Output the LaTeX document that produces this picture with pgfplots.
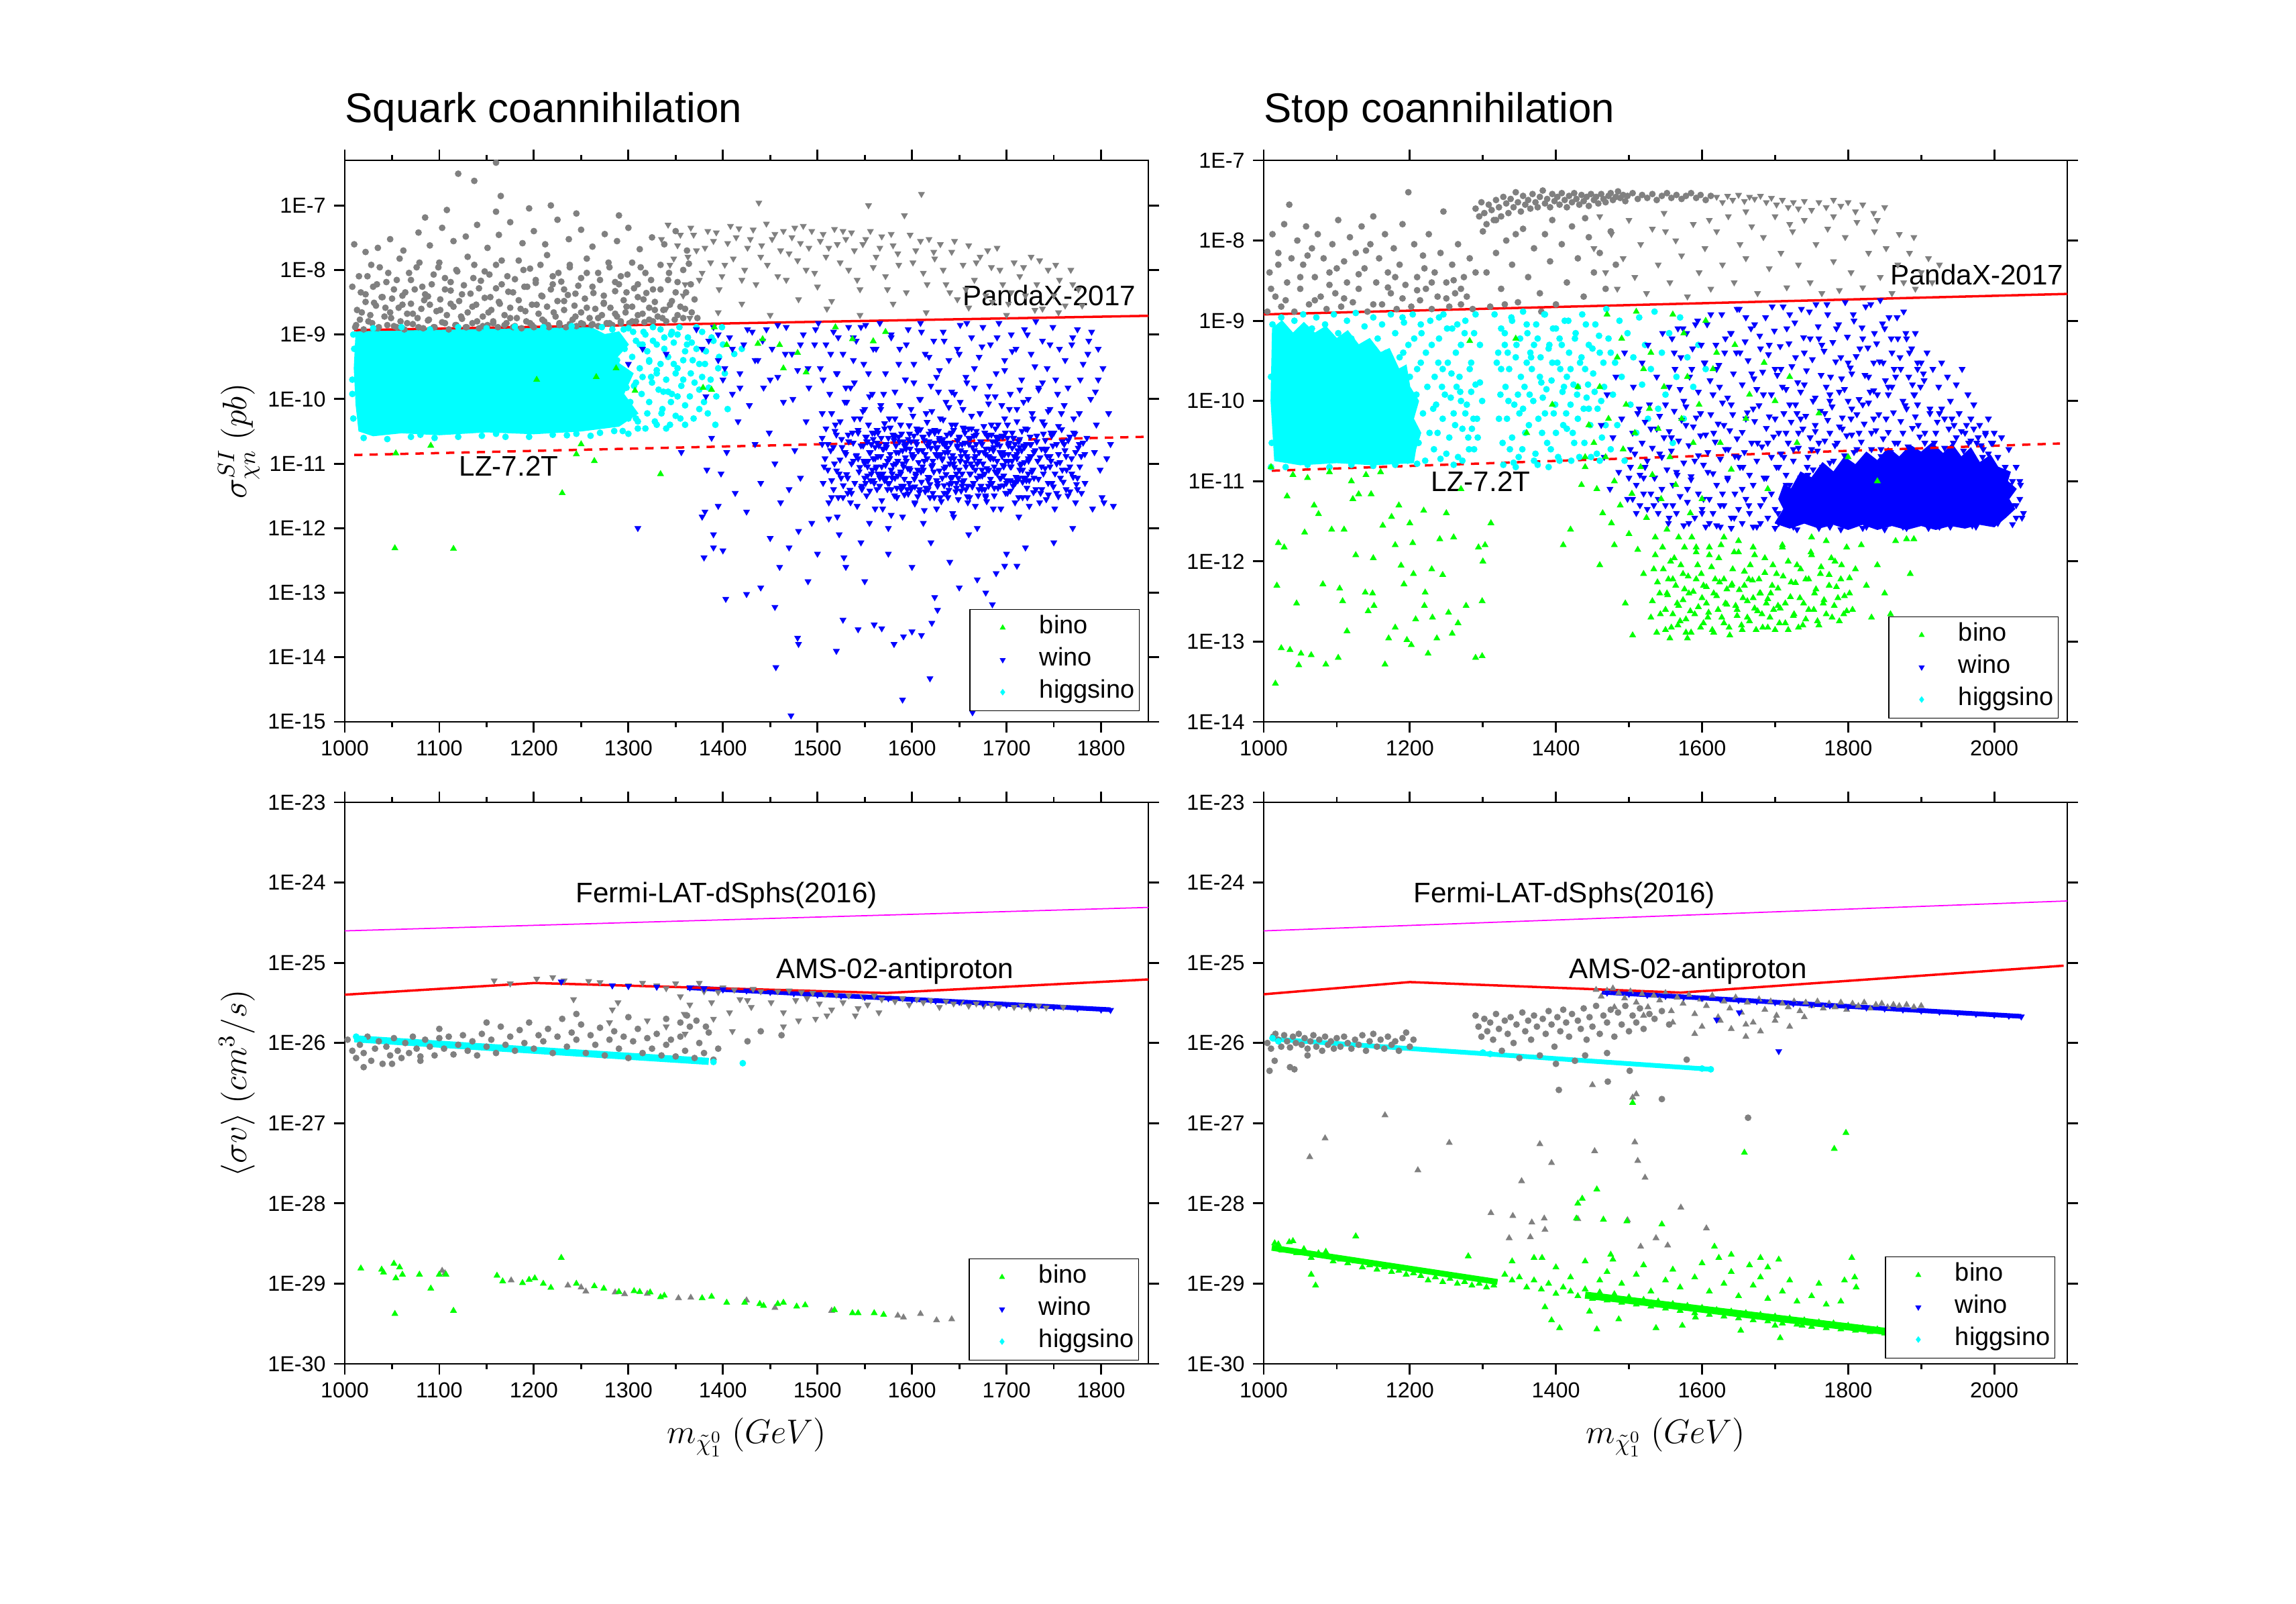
\documentclass[border=0pt]{standalone}
\usepackage{fontspec}
\setmainfont{Liberation Sans}
\usepackage{pgfplots}
\pgfplotsset{compat=1.18}
\definecolor{cgray}{RGB}{128,128,128}
\definecolor{cgreen}{RGB}{0,255,0}
\definecolor{ccyan}{RGB}{0,255,255}
\definecolor{cblue}{RGB}{0,0,255}
\definecolor{cred}{RGB}{255,0,0}
\definecolor{cmag}{RGB}{255,0,255}
\pgfplotsset{
  every axis/.append style={
    scale only axis, width=11.98cm, height=8.37cm, anchor=south west,
    ymode=log, log basis y=10,
    axis line style={line width=0.8pt},
    every tick/.style={black,line width=0.8pt},
    major tick length=0.16cm, minor tick length=0.08cm,
    tick align=outside,
    tick label style={font=\fontsize{9.2}{11}\selectfont},
    /pgf/number format/assume math mode=true,
    /pgf/number format/1000 sep={},
    scaled x ticks=false,
    yticklabel={1E\pgfmathparse{int(round(\tick))}\pgfmathresult},
    minor x tick num=1,
    title style={at={(0,1)},anchor=base west,yshift=0.35cm,inner sep=0pt,font=\fontsize{17.6}{20}\selectfont},
    ylabel style={at={(axis description cs:-0.1223,0.5)},rotate=0,anchor=base,font=\fontsize{14}{16}\selectfont},
    xlabel style={at={(axis description cs:0.5,-0.142)},anchor=base,font=\fontsize{14}{16}\selectfont},
    legend style={at={(1,0)},anchor=south east,draw=black,line width=0.4pt,fill=white,
      inner xsep=0.07cm,inner ysep=0.035cm,column sep=0.37cm,row sep=0pt,
      font=\fontsize{10.8}{13}\selectfont,
      nodes={inner xsep=0pt,inner ysep=0pt,text height=0.75em,text depth=0.25em,minimum height=0.48cm}},
    legend cell align=left,
    legend image code/.code={\path[draw=none,fill=none] (0cm,-0.24cm) rectangle (0.6cm,0.24cm); \draw[#1] plot coordinates {(0.42cm,0cm)};},
  },
  gc/.style={only marks,mark=*,mark size=1.3pt,color=cgray,mark options={line width=0.2pt},forget plot},
  gtd/.style={only marks,mark=triangle*,mark size=1.5pt,color=cgray,mark options={rotate=180,line width=0.2pt},forget plot},
  gtu/.style={only marks,mark=triangle*,mark size=1.5pt,color=cgray,mark options={line width=0.2pt},forget plot},
  cyp/.style={only marks,mark=*,mark size=1.3pt,color=ccyan,mark options={line width=0.2pt},forget plot},
  blp/.style={only marks,mark=triangle*,mark size=1.5pt,color=cblue,mark options={rotate=180,line width=0.2pt},forget plot},
  grp/.style={only marks,mark=triangle*,mark size=1.5pt,color=cgreen,mark options={line width=0.2pt},forget plot},
}
\tikzset{lbl/.style={anchor=base west,inner sep=0pt,font=\fontsize{12}{14}\selectfont}}
\newcommand{\mylegend}{%
  \addlegendimage{mark=triangle*,color=cgreen,mark size=1.1pt}\addlegendentry{bino}
  \addlegendimage{mark=triangle*,color=cblue,mark size=1.1pt,mark options={rotate=180}}\addlegendentry{wino}
  \addlegendimage{mark=diamond*,color=ccyan,mark size=1.1pt}\addlegendentry{higgsino}}
\begin{document}
\begin{tikzpicture}
\useasboundingbox (0,0) rectangle (34.23cm,23.91cm);
%%%%%%%%%%%%%%%%%%%%%%%%%%%% TOP LEFT
\begin{axis}[at={(5.14cm,13.15cm)}, xmin=1000, xmax=1850, ymin=1e-15, ymax=5e-7,
  xtick={1000,1100,...,1800}, ytickten={-15,...,-7},
  title={Squark coannihilation}, ylabel={$\sigma^{SI}_{\chi n}\ (pb)$},
  legend style={xshift=-0.13cm,yshift=0.16cm}]
\mylegend
% gray circles
\addplot[gc] coordinates {(1012,1.4e-9)(1018,2.2e-9)(1025,1.6e-9)(1031,3.1e-9)(1036,1.3e-9)(1043,2.6e-9)(1049,1.8e-9)(1055,1.3e-9)(1061,2.9e-9)(1066,1.5e-9)(1072,2.1e-9)(1078,1.3e-9)(1084,3.4e-9)(1089,1.7e-9)(1095,1.3e-9)(1101,2.4e-9)(1106,1.5e-9)(1112,3.0e-9)(1118,1.4e-9)(1123,1.9e-9)(1129,1.3e-9)(1135,2.7e-9)(1140,1.6e-9)(1146,1.35e-9)(1152,2.2e-9)(1157,1.5e-9)(1163,3.2e-9)(1169,1.4e-9)(1175,1.8e-9)(1180,1.35e-9)(1186,2.5e-9)(1192,1.6e-9)(1198,1.4e-9)(1203,2.9e-9)(1209,1.7e-9)(1215,1.4e-9)(1221,2.2e-9)(1227,1.5e-9)(1232,3.3e-9)(1238,1.45e-9)(1244,1.9e-9)(1250,1.5e-9)(1256,2.6e-9)(1262,1.45e-9)(1268,1.8e-9)(1274,3.0e-9)(1280,1.5e-9)(1286,2.1e-9)(1292,1.6e-9)(1298,2.7e-9)(1304,1.6e-9)(1310,2.0e-9)(1316,3.5e-9)(1322,1.7e-9)(1328,2.4e-9)(1336,1.8e-9)(1344,2.9e-9)(1352,2.0e-9)(1360,2.5e-9)
(1008,5.5e-9)(1015,8e-9)(1022,4.2e-9)(1028,1.2e-8)(1034,6e-9)(1040,3.8e-9)(1046,9e-9)(1052,5e-9)(1058,1.5e-8)(1064,4.5e-9)(1070,7e-9)(1076,1.1e-8)(1082,5.5e-9)(1088,3.9e-9)(1094,8.5e-9)(1100,1.3e-8)(1106,5e-9)(1112,6.5e-9)(1118,1.0e-8)(1124,4.2e-9)(1130,1.6e-8)(1136,7.5e-9)(1142,5.2e-9)(1148,9.5e-9)(1154,3.8e-9)(1160,1.2e-8)(1166,6e-9)(1172,8e-9)(1178,4.5e-9)(1184,1.4e-8)(1190,5.5e-9)(1196,1.05e-8)(1202,7e-9)(1208,4e-9)(1214,1.7e-8)(1220,6e-9)(1226,9e-9)(1232,5e-9)(1238,1.2e-8)(1244,4.3e-9)(1250,7.5e-9)(1256,1.5e-8)(1262,5.5e-9)(1268,9e-9)(1274,4e-9)(1280,1.1e-8)(1286,6.5e-9)(1292,8e-9)(1298,4.5e-9)(1304,1.3e-8)(1310,6e-9)(1318,9e-9)(1326,5e-9)(1334,1.2e-8)(1342,7e-9)(1350,4.5e-9)(1358,1e-8)(1366,6e-9)
(1010,2.5e-8)(1022,1.9e-8)(1035,2.2e-8)(1048,3e-8)(1062,2e-8)(1078,3.8e-8)(1090,2.4e-8)(1103,4.5e-8)(1115,2.8e-8)(1128,3.3e-8)(1140,5e-8)(1151,2.2e-8)(1163,3.5e-8)(1175,5.5e-8)(1188,2.6e-8)(1200,4e-8)(1212,2.5e-8)(1225,6e-8)(1237,3e-8)(1250,4.2e-8)(1262,2.3e-8)(1275,3.6e-8)(1288,2.8e-8)(1300,4.5e-8)(1312,2.1e-8)(1325,3.2e-8)(1338,2.5e-8)(1350,4e-8)(1362,2e-8)
(1120,3.1e-7)(1160,4.6e-7)(1137,2.4e-7)(1165,1.4e-7)(1160,8e-8)(1108,8.5e-8)(1085,6.5e-8)(1195,9e-8)(1245,7.5e-8)(1290,7e-8)(1218,1.0e-7)};
\addplot[gc] coordinates {(1011,1.3e-9)(1013,2.4e-9)(1016,1.7e-9)(1017,4.5e-9)(1020,1.2e-9)(1022,3.2e-9)(1024,8e-9)(1027,2e-9)(1029,1.5e-9)(1030,5.5e-9)(1033,2.8e-9)(1035,1.25e-9)(1037,1.1e-8)(1039,3.8e-9)(1042,1.9e-9)(1044,6.5e-9)(1045,1.4e-9)(1048,2.2e-9)(1050,3.6e-9)(1052,1.35e-9)(1055,7e-9)(1057,2.6e-9)(1059,1.6e-9)(1061,4e-9)(1063,1.2e-9)(1066,2.1e-9)(1068,9e-9)(1070,3e-9)(1072,1.45e-9)(1074,5e-9)(1077,1.8e-9)(1079,1.3e-8)(1081,2.5e-9)(1083,1.25e-9)(1085,4.2e-9)(1088,1.65e-9)(1090,2.9e-9)(1092,6e-9)(1094,1.3e-9)(1097,2.3e-9)(1099,1.1e-8)(1101,3.5e-9)(1103,1.55e-9)(1106,7.5e-9)(1108,2e-9)(1110,1.2e-9)(1112,4.8e-9)(1115,2.7e-9)(1117,1.4e-9)(1119,9.5e-9)(1121,3.3e-9)(1124,1.75e-9)(1126,5.8e-9)(1128,1.3e-9)(1130,2.2e-9)(1133,4.3e-9)(1135,1.5e-9)(1137,1.2e-8)(1139,2.9e-9)(1142,1.25e-9)(1144,6.8e-9)(1146,1.9e-9)(1148,3.7e-9)(1151,1.4e-9)(1153,8.5e-9)(1155,2.4e-9)(1157,1.6e-9)(1160,5.2e-9)(1162,1.3e-9)(1164,3e-9)(1166,1.4e-8)(1169,2e-9)(1171,1.5e-9)(1173,4.6e-9)(1175,2.6e-9)(1178,1.3e-9)(1180,7.2e-9)(1182,1.8e-9)(1184,3.4e-9)(1187,1.25e-9)(1189,1e-8)(1191,2.3e-9)(1193,5.5e-9)(1196,1.5e-9)(1198,2.9e-9)(1200,1.3e-9)(1202,6.3e-9)(1205,2.1e-9)(1207,1.2e-8)(1209,3.9e-9)(1211,1.6e-9)(1214,2.7e-9)(1216,1.3e-9)(1218,5e-9)(1220,8e-9)(1223,1.9e-9)(1225,3.3e-9)(1227,1.4e-9)(1229,6.6e-9)(1232,2.4e-9)(1234,1.3e-9)(1236,4.1e-9)(1238,1.1e-8)(1241,1.7e-9)(1243,2.8e-9)(1245,1.35e-9)(1247,5.7e-9)(1250,2.2e-9)(1252,1.45e-9)(1254,3.6e-9)(1256,9e-9)(1259,1.8e-9)(1261,1.4e-9)(1263,4.4e-9)(1265,2.5e-9)(1268,1.35e-9)(1270,7e-9)(1272,2e-9)(1274,3.1e-9)(1277,1.5e-9)(1279,1.3e-8)(1281,2.6e-9)(1283,1.4e-9)(1286,4.7e-9)(1288,1.9e-9)(1290,6e-9)(1292,1.5e-9)(1295,3.4e-9)(1297,2.2e-9)(1299,8.5e-9)(1301,1.5e-9)(1304,2.7e-9)(1306,5.2e-9)(1308,1.6e-9)(1310,3.8e-9)(1313,1.1e-8)(1315,2.1e-9)(1317,1.55e-9)(1319,4.4e-9)(1322,2.6e-9)(1324,7e-9)(1326,1.6e-9)(1328,3.2e-9)(1331,1.9e-9)(1334,5e-9)(1337,2.4e-9)(1340,1.6e-9)(1343,9e-9)(1346,3.3e-9)(1349,1.7e-9)(1352,6.5e-9)(1355,2.7e-9)(1358,1.8e-9)(1361,4.5e-9)(1364,1.25e-8)(1367,2.2e-9)(1370,3.5e-9)(1373,1.8e-9)};
% gray triangles
\addplot[gtd] coordinates {(1335,3e-8)(1342,5e-8)(1348,1.5e-8)(1355,3.5e-8)(1360,6e-9)(1366,4.5e-8)(1372,2e-8)(1378,9e-9)(1384,4e-8)(1390,2.8e-8)(1396,5e-9)(1402,1.2e-8)(1408,4.8e-8)(1414,3.2e-8)(1420,7e-9)(1426,2.2e-8)(1432,4.2e-8)(1438,1.1e-7)(1440,1.6e-8)(1446,5.2e-8)(1452,3e-8)(1458,8e-9)(1464,4e-8)(1470,1.8e-8)(1476,4.5e-8)(1482,2.6e-8)(1488,1e-8)(1494,4e-8)(1500,5.5e-9)(1506,3.6e-8)(1512,2.2e-8)(1518,4.3e-8)(1524,1.3e-8)(1530,3e-8)(1536,3.8e-8)(1542,7e-9)(1548,2.5e-8)(1554,1e-7)(1556,4e-8)(1562,1.6e-8)(1568,3.3e-8)(1574,5e-9)(1580,2.4e-8)(1586,1.2e-8)(1592,7e-8)(1598,3.5e-8)(1604,2e-8)(1610,1.5e-7)(1612,9e-9)(1618,3e-8)(1624,1.5e-8)(1630,2.5e-8)(1636,6e-9)(1642,1.9e-8)(1648,3.5e-9)(1654,1.2e-8)(1660,2.4e-8)(1666,7e-9)(1672,1.6e-8)(1678,4e-9)(1684,1.1e-8)(1690,2.2e-8)(1696,6e-9)(1702,3e-9)(1708,1.3e-8)(1714,8e-9)(1720,4e-9)(1726,1.6e-8)(1732,6e-9)(1738,2.5e-9)(1744,1e-8)(1750,4e-9)(1756,7e-9)(1762,2.8e-9)(1768,1.0e-8)(1776,5e-9)
(1340,2.5e-9)(1365,1.8e-9)(1395,2.2e-9)(1420,3e-9)(1450,2e-9)(1480,3.5e-9)(1510,2.5e-9)(1545,2e-9)(1580,3e-9)(1615,2.2e-9)(1640,4.5e-9)(1660,2.6e-9)(1685,3.2e-9)(1700,2e-9)(1730,2.4e-9)(1755,2.2e-9)(1780,2.8e-9)
(1344,1.2e-8)(1352,2.4e-8)(1358,4e-9)(1363,1.6e-8)(1369,3.5e-8)(1375,7e-9)(1381,2.2e-8)(1387,1.3e-8)(1393,3.8e-8)(1399,8e-9)(1405,2.6e-8)(1411,1.5e-8)(1417,4.4e-8)(1423,1e-8)(1429,3e-8)(1435,6e-9)(1441,2.4e-8)(1447,1.2e-8)(1455,3.6e-8)(1461,2e-8)(1467,7e-9)(1473,3.2e-8)(1479,1.4e-8)(1485,4.8e-8)(1491,2.2e-8)(1497,9e-9)(1503,2.8e-8)(1509,1.6e-8)(1515,3.3e-9)(1521,2.5e-8)(1527,4e-8)(1533,1e-8)(1539,2e-8)(1545,5e-9)(1551,3e-8)(1559,1.1e-8)(1566,2.2e-8)(1572,8e-9)(1578,3.6e-8)(1585,1.8e-8)(1594,4.5e-9)(1601,1.3e-8)(1609,2.8e-8)(1616,6e-9)(1623,1.9e-8)(1633,1e-8)(1645,2.8e-8)(1657,5e-9)(1668,1.3e-8)(1680,2e-8)(1693,1e-8)(1705,4.5e-9)(1718,1.1e-8)(1735,1.4e-8)(1752,1.2e-8)(1770,6e-9)};
% cyan core and points
\addplot[fill=ccyan,draw=ccyan,forget plot] coordinates {(1012,1.15e-9)(1100,1.2e-9)(1200,1.25e-9)(1260,1.3e-9)(1275,1.0e-9)(1290,1.1e-9)(1300,7e-10)(1285,4e-10)(1305,2.5e-10)(1295,1.2e-10)(1310,6e-11)(1290,3.8e-11)(1250,3.2e-11)(1200,2.9e-11)(1150,3.1e-11)(1100,2.8e-11)(1060,3.0e-11)(1030,2.7e-11)(1015,3.2e-11)(1012,8e-11)(1010,3e-10)(1012,1.15e-9)};
\addplot[cyp] coordinates {(1295,1.2e-9)(1305,1.1e-9)(1312,7e-10)(1318,1.0e-9)(1322,4e-10)(1326,8e-10)(1330,2.5e-10)(1334,1.2e-9)(1338,6e-10)(1342,1.3e-10)(1345,9e-11)(1348,3.5e-10)(1352,1.0e-9)(1355,5e-11)(1358,2e-10)(1362,7e-10)(1365,1.1e-10)(1368,4e-10)(1372,1.3e-9)(1375,7e-11)(1378,2.2e-10)(1382,5.5e-10)(1385,1.5e-10)(1388,9e-10)(1392,4e-11)(1395,3e-10)(1400,7e-10)(1310,3.5e-11)(1320,6e-11)(1330,4e-11)(1340,3.5e-11)(1300,2.9e-11)(1325,1.8e-10)(1335,6e-11)(1350,2.5e-10)(1360,4e-11)(1370,1.8e-10)(1380,9e-11)(1346,1.1e-9)(1315,2.2e-10)(1298,1.5e-10)(1308,5e-11)(1420,6e-10)
(1020,2.5e-11)(1045,2.4e-11)(1070,2.6e-11)(1095,2.5e-11)(1120,2.6e-11)(1145,2.7e-11)(1170,2.6e-11)(1195,2.6e-11)(1220,2.8e-11)(1245,2.9e-11)(1270,3e-11)(1285,3.2e-11)(1260,2.7e-11)(1235,2.75e-11)(1160,2.9e-11)(1080,2.8e-11)(1009,5e-11)(1008,2e-10)(1010,6e-10)(1009,1e-9)(1008,1.2e-10)
(1272,1.3e-9)(1275,4e-11)(1278,7e-10)(1280,2e-10)(1283,1.2e-9)(1285,6e-11)(1288,4e-10)(1290,9e-10)(1292,1.5e-10)(1294,3.2e-11)(1296,6e-10)(1298,2.6e-10)(1300,1.25e-9)(1302,9e-11)(1304,4.5e-10)(1306,1.6e-10)(1308,8e-10)(1310,4.5e-11)(1312,3e-10)(1314,1.2e-10)(1316,1.1e-9)(1318,3.5e-11)(1320,5.5e-10)(1322,9e-11)(1324,2.2e-10)(1326,1.3e-9)(1328,4.5e-11)(1330,7e-10)(1332,1.4e-10)(1334,3.5e-10)(1336,7e-11)(1338,9e-10)(1340,2e-10)(1342,4.5e-10)(1344,4e-11)(1346,1.2e-10)(1348,7.5e-10)(1350,5.5e-11)(1352,3e-10)(1354,1.3e-9)(1356,1.6e-10)(1358,4e-10)(1360,8e-11)(1363,9e-10)(1366,2.5e-10)(1369,5e-11)(1372,6e-10)(1375,1.4e-10)(1378,1.1e-9)(1381,3.5e-10)(1384,6e-11)(1387,2e-10)(1390,8e-10)(1393,1.1e-10)(1396,4.5e-10)(1399,1.3e-9)(1402,2.5e-10)(1405,7e-11)(1412,5e-10)(1286,2.5e-10)(1300,5e-11)(1315,7e-10)(1330,2.8e-10)(1345,1e-9)(1360,5.5e-10)(1375,3.5e-10)(1308,1.8e-10)(1322,3.8e-10)(1337,1.3e-10)(1352,1.1e-10)(1367,7.5e-10)
(1030,1.25e-9)(1060,1.3e-9)(1090,1.2e-9)(1120,1.3e-9)(1150,1.25e-9)(1180,1.32e-9)(1210,1.3e-9)(1240,1.35e-9)};
% blue
\addplot[blp] coordinates {(1372,1.2e-9)(1378,6e-10)(1382,1.1e-10)(1385,8e-10)(1388,2.5e-11)(1390,1.3e-9)(1395,4e-10)(1398,7e-12)(1400,2e-10)(1404,1.5e-11)(1407,9e-10)(1410,1.2e-10)(1413,3.5e-12)(1416,4.5e-11)(1418,2.5e-10)(1422,7e-10)(1425,1.8e-12)(1428,8e-11)(1431,1.1e-9)(1434,2e-11)(1437,4e-10)(1440,5e-12)(1443,1.5e-10)(1446,1.2e-9)(1449,3e-11)(1452,6e-10)(1455,1e-11)(1458,2.2e-10)(1461,2.5e-12)(1464,9e-11)(1467,1.3e-9)(1470,4e-12)(1473,5e-10)(1476,1.6e-11)(1479,2.8e-10)(1482,6e-12)(1485,1e-9)(1488,4.5e-11)(1491,1.5e-10)(1494,1.2e-12)(1497,7e-10)(1378,1.5e-12)(1381,1.8e-12)(1390,5e-13)(1395,2.2e-12)(1310,1e-12)(1356,1.5e-11)(1383,8e-12)(1300,3.5e-10)(1340,5e-10)(1315,6e-10)
(1501,1.5e-9)(1503,3e-10)(1505,6e-11)(1507,9e-12)(1509,7e-10)(1511,2e-11)(1513,1.2e-10)(1515,3e-12)(1517,1.1e-9)(1519,4e-11)(1521,2.5e-10)(1523,8e-13)(1525,6e-12)(1527,5e-10)(1529,1.5e-11)(1531,9e-11)(1533,1.3e-9)(1535,2.5e-12)(1537,3e-11)(1539,1.8e-10)(1541,8e-10)(1543,1.2e-11)(1545,5e-11)(1547,4e-12)(1549,3.5e-10)(1551,1.4e-9)(1553,2.2e-11)(1555,1.1e-10)(1557,7e-12)(1559,6e-10)(1512,1.4e-12)(1528,3.5e-13)(1546,6e-13)(1555,1.2e-12)(1520,2.5e-10)(1538,9e-10)(1550,7e-11)(1505,2.5e-11)(1532,3.5e-12)(1558,3e-11)
(1561,1.2e-11)(1563,4e-12)(1564,3e-11)(1566,1.5e-9)(1567,8e-11)(1569,2e-12)(1570,6e-12)(1572,2.5e-10)(1573,1.8e-11)(1575,1e-12)(1576,5e-11)(1578,9e-10)(1579,7e-12)(1581,2.5e-11)(1582,1.3e-10)(1584,3e-12)(1585,1.1e-11)(1587,6e-10)(1588,4e-11)(1590,1.5e-12)(1591,9e-12)(1593,2e-10)(1594,2e-11)(1596,1.2e-9)(1597,5e-12)(1599,7e-11)(1600,1.4e-11)(1602,3.5e-10)(1603,2.5e-12)(1605,3.5e-11)(1606,8e-12)(1608,1e-10)(1609,1.5e-9)(1611,1.6e-11)(1612,1.2e-12)(1614,5e-10)(1615,6e-11)(1617,4e-12)(1618,2.2e-11)(1620,1.6e-10)(1621,9e-12)(1623,8e-10)(1624,3e-11)(1626,2e-12)(1627,1.3e-11)(1629,2.8e-10)(1630,5e-11)(1632,6e-12)(1633,1.1e-9)(1635,1.9e-11)(1636,9e-11)(1638,3e-12)(1639,4e-10)(1641,1.2e-11)(1642,4e-11)(1644,1.5e-12)(1645,1.2e-10)(1647,7e-12)(1648,6e-10)(1650,2.5e-11)(1651,1.4e-9)(1653,4.5e-12)(1654,7e-11)(1656,1.5e-11)(1657,2.2e-10)(1659,2.5e-12)(1660,3.5e-11)(1662,1e-11)(1663,9e-10)(1665,5e-12)(1666,1.5e-10)(1668,2e-11)(1669,1e-12)(1671,4.5e-10)(1672,6e-11)(1674,8e-12)(1675,1.3e-9)(1677,3e-11)(1678,3e-12)(1680,1.1e-10)(1681,1.3e-11)(1683,7e-10)(1684,4e-11)(1686,2e-12)(1687,9e-12)(1689,2.5e-10)(1690,2e-11)(1692,1.5e-9)(1693,6e-12)(1695,8e-11)(1696,1.5e-11)(1698,4e-10)(1699,3.5e-12)(1701,4e-11)(1702,1.1e-11)(1704,1.2e-10)(1705,1e-9)(1707,2.5e-11)(1708,5e-12)(1710,6e-10)(1711,7e-11)(1713,1.5e-12)(1714,1.8e-11)(1716,2e-10)(1717,8e-12)(1719,1.2e-9)(1720,3.5e-11)(1722,3e-12)(1723,1e-10)(1725,1.3e-11)(1726,5e-10)(1728,5e-11)(1729,6e-12)(1731,1.6e-9)(1732,2.2e-11)(1734,1.5e-10)(1735,2.5e-12)(1737,9e-12)(1738,8e-10)(1740,4e-11)(1741,1.6e-11)(1743,3e-10)(1744,5e-12)(1746,7e-11)(1747,1.1e-11)(1749,1.3e-9)(1750,3e-11)(1752,2e-10)(1753,3.5e-12)(1755,1.4e-11)(1756,6e-10)(1758,6e-11)(1759,8e-12)
(1761,2e-11)(1763,4e-12)(1765,1.5e-10)(1767,9e-12)(1769,7e-10)(1771,3e-11)(1773,2.5e-12)(1775,1.2e-9)(1777,6e-11)(1779,1.3e-11)(1781,3.5e-10)(1783,5e-12)(1785,2.5e-11)(1787,8e-10)(1789,1e-10)(1791,2e-12)(1793,1.5e-11)(1795,4e-11)(1797,2e-10)(1799,8e-12)(1801,3e-12)(1803,2.5e-12)(1806,1.2e-11)(1810,2e-11)(1813,2.2e-12)(1797,6e-10)(1790,1.1e-9)(1775,6e-12)
(1403,8e-14)(1425,9.5e-14)(1455,6e-14)(1456,7e-15)(1472,1.25e-15)(1479,2e-14)(1480,1.6e-14)(1520,1.25e-14)(1527,3.8e-14)(1543,2.7e-14)(1560,3.2e-14)(1568,2.8e-14)(1581,1.6e-14)(1590,2.2e-15)(1591,2.1e-14)(1600,2.5e-14)(1610,2.2e-14)(1621,3.4e-14)(1619,4.7e-15)(1624,8.5e-14)(1627,5.4e-14)(1664,1.4e-15)(1669,1.6e-13)(1678,1e-13)(1685,6.6e-14)(1689,2e-13)(1698,2.6e-13)(1711,2.6e-13)(1380,3.5e-13)(1400,4.5e-13)(1440,1.2e-13)(1460,2.5e-13)(1490,1.5e-13)(1500,4e-13)(1530,2.5e-13)(1550,1.5e-13)(1575,4e-13)(1600,2.5e-13)(1640,3e-13)(1650,1.2e-13)(1700,4e-13)(1720,5e-13)(1750,6e-13)(1770,1e-12)(1450,7e-13)(1470,5e-13)(1480,9e-13)(1390,8e-13)(1620,6e-13)(1660,8e-13)};
\addplot[blp] coordinates {(1505,2e-11)(1506,5e-12)(1508,1.2e-11)(1509,3.5e-11)(1511,8e-12)(1512,2.5e-12)(1514,1.6e-11)(1515,6e-11)(1517,4e-12)(1518,1e-11)(1520,2.8e-11)(1521,1.5e-12)(1523,7e-12)(1524,4.5e-11)(1526,1.8e-11)(1527,3e-12)(1529,9e-11)(1530,1.4e-11)(1532,6e-12)(1533,2.2e-11)(1535,1.5e-10)(1536,3.5e-12)(1538,1.1e-11)(1539,5e-11)(1541,1.3e-11)(1542,2.2e-12)(1543,3e-11)(1544,7.5e-12)(1546,1.9e-11)(1547,4.5e-12)(1548,6.5e-11)(1549,1.1e-11)(1551,2.6e-11)(1552,3.2e-12)(1553,9e-12)(1554,4e-11)(1556,1.5e-11)(1557,5.5e-12)(1558,1.2e-10)(1559,2.4e-11)(1561,2e-12)(1562,8.5e-12)(1563,3.3e-11)(1564,1.3e-11)(1566,6.5e-12)(1567,7e-11)(1568,2.7e-12)(1569,1.7e-11)(1571,4.2e-11)(1572,9.5e-12)(1573,2e-11)(1574,4e-12)(1576,1.2e-11)(1577,3.6e-11)(1578,1.6e-12)(1579,6e-12)(1581,2.3e-11)(1582,5e-11)(1583,1e-11)(1584,3e-12)(1586,1.5e-11)(1587,8e-11)(1588,7e-12)(1589,2.9e-11)(1591,4.5e-12)(1592,1.9e-11)(1593,2e-10)(1594,1.1e-11)(1596,3.4e-12)(1597,3.9e-11)(1598,8e-12)(1599,2.2e-11)(1601,5.5e-11)(1602,1.3e-11)(1603,2.4e-12)(1604,6.5e-12)(1606,3.1e-11)(1607,1.6e-11)(1608,4e-12)(1609,1e-10)(1611,9e-12)(1612,2.6e-11)(1613,1.9e-12)(1614,1.4e-11)(1616,4.4e-11)(1617,5.5e-12)(1618,2e-11)(1619,3e-12)(1621,6.5e-11)(1622,1.1e-11)(1623,7.5e-12)(1624,3.3e-11)(1626,1.7e-11)(1627,4.5e-12)(1628,1.3e-10)(1629,2.3e-11)(1631,2.6e-12)(1632,1.2e-11)(1633,4.8e-11)(1634,8.5e-12)(1636,2.1e-11)(1637,3.5e-12)(1638,1.5e-11)(1639,7.5e-11)(1641,6e-12)(1642,3e-11)(1643,1.7e-12)(1644,1e-11)(1646,4e-11)(1647,5e-12)(1648,1.8e-11)(1649,2.8e-12)(1651,9e-11)(1652,1.3e-11)(1653,7e-12)(1654,3.6e-11)(1656,2.1e-11)(1657,4e-12)(1658,1.8e-10)(1659,1.2e-11)(1661,3e-12)(1662,2.5e-11)(1663,5.5e-11)(1664,9e-12)(1666,1.6e-11)(1667,2.2e-12)(1668,3.2e-11)(1669,6e-12)(1671,1.1e-11)(1672,6e-11)(1673,4.5e-12)(1674,2e-11)(1676,3.8e-11)(1677,7e-12)(1678,1.4e-11)(1679,2.6e-12)(1681,8.5e-11)(1682,1.7e-11)(1683,5e-12)(1684,2.8e-11)(1686,1.2e-11)(1687,3.2e-12)(1688,1.1e-10)(1689,2.2e-11)(1691,4e-11)(1692,8e-12)(1693,1.5e-11)(1694,2e-12)(1696,2.6e-11)(1697,6.5e-12)(1698,5e-11)(1699,1.1e-11)(1701,3.5e-12)(1702,1.9e-11)(1703,7e-11)(1704,9e-12)(1706,3e-11)(1707,4.5e-12)(1708,1.3e-11)(1709,2.5e-12)(1711,4.5e-11)(1712,1.6e-11)(1713,6e-12)(1714,2.4e-11)(1716,1e-11)(1717,3e-12)(1718,9e-11)(1719,1.8e-11)(1721,5.5e-12)(1722,3.4e-11)(1723,1.2e-11)(1724,2.2e-12)(1726,2e-11)(1727,6e-11)(1728,8e-12)(1729,1.5e-11)(1731,4e-12)(1732,2.7e-11)(1733,1.1e-11)(1734,1.4e-10)(1736,3.5e-12)(1737,1.7e-11)(1738,4.5e-11)(1739,7e-12)(1741,2.3e-11)(1742,2.8e-12)(1743,1.3e-11)(1744,6.5e-11)(1746,9e-12)(1747,3e-11)(1748,5e-12)(1749,1.9e-11)(1751,2e-12)(1753,1e-11)(1755,3.8e-11)(1757,6e-12)(1759,2.2e-11)(1761,8e-11)(1763,1.3e-11)(1765,3.2e-12)(1767,2.6e-11)(1769,7e-12)(1771,5e-11)(1773,1.5e-11)(1775,4e-12)(1777,2e-11)
(1395,1e-9)(1402,3e-10)(1410,6e-10)(1418,1.5e-10)(1426,1.2e-9)(1434,4e-10)(1442,8e-10)(1450,2e-10)(1458,1.4e-9)(1466,5e-10)(1474,1e-10)(1482,7e-10)(1490,3e-10)(1498,1.2e-9)(1506,2e-10)(1514,5e-10)(1522,9e-10)(1530,1.5e-10)(1538,4e-10)(1546,1.3e-9)(1554,2.5e-10)(1562,6e-10)(1570,1.2e-10)(1578,1e-9)(1586,3.5e-10)(1594,7e-10)(1602,1.8e-10)(1610,1.1e-9)(1618,4.5e-10)(1626,2.2e-10)(1634,8e-10)(1642,1.3e-10)(1650,5e-10)(1658,1.5e-9)(1666,3e-10)(1674,6.5e-10)(1682,1.6e-10)(1690,9e-10)(1698,2.8e-10)(1706,5.5e-10)(1714,1.4e-10)(1722,1e-9)(1730,3.2e-10)(1738,1.8e-10)(1746,7e-10)(1754,1.2e-10)(1762,4e-10)(1770,9e-10)(1778,2e-10)(1786,5e-10)(1794,1.3e-10)(1802,3e-10)(1808,6e-11)};
% blue dense cluster
\addplot[blp] coordinates {(1550,1e-11)(1551,5e-12)(1552,2.2e-11)(1553,6.5e-12)(1555,1.5e-11)(1556,5.5e-12)(1557,2e-11)(1558,8e-12)(1559,1.2e-11)(1560,5e-12)(1561,1.8e-11)(1563,2.1e-11)(1564,7e-12)(1565,1.9e-11)(1566,6e-12)(1567,1.3e-11)(1568,9e-12)(1570,1.7e-11)(1571,5.5e-12)(1572,2e-11)(1573,6e-12)(1574,1.1e-11)
(1575,2.5e-11)(1576,5e-12)(1577,1.4e-11)(1578,4e-12)(1580,9.5e-12)(1581,2.7e-11)(1582,6e-12)(1583,1.9e-11)(1584,4.2e-12)(1585,1.1e-11)(1586,2.6e-11)(1588,7.5e-12)(1589,4.5e-12)(1590,1.6e-11)(1591,2.2e-11)(1592,5.8e-12)(1593,1.25e-11)(1595,4e-12)(1596,2.4e-11)(1597,8.5e-12)(1598,1.7e-11)(1599,4.3e-12)
(1601,1.3e-11)(1602,2.7e-11)(1603,4.4e-12)(1604,7e-12)(1605,2e-11)(1606,3.1e-12)(1607,1.05e-11)(1609,3.4e-11)(1610,5.2e-12)(1611,1.6e-11)(1612,8e-12)(1613,2.3e-11)(1614,3.7e-12)(1616,1.2e-11)(1617,6.2e-12)(1618,2.9e-11)(1619,4.8e-12)(1620,1.75e-11)(1621,9e-12)(1622,3.5e-12)(1624,2.1e-11)(1625,1.4e-11)
(1626,5.5e-12)(1627,1.8e-11)(1628,3.2e-11)(1629,7.8e-12)(1630,3e-12)(1632,1.15e-11)(1633,2.4e-11)(1634,4.6e-12)(1635,1.5e-11)(1636,6.8e-12)(1637,2.8e-11)(1639,3.9e-12)(1640,1e-11)(1641,2.1e-11)(1642,5e-12)(1643,1.35e-11)(1644,3.3e-11)(1645,8.8e-12)(1647,4.2e-12)(1648,1.9e-11)(1649,6e-12)(1650,2.6e-11)
(1651,1.1e-11)(1652,3.8e-12)(1653,2e-11)(1655,5.5e-12)(1656,3e-11)(1657,9e-12)(1658,1.3e-11)(1659,4.5e-12)(1660,2.5e-11)(1661,7e-12)(1663,3.5e-11)(1664,1.8e-11)(1665,5e-12)(1666,1.2e-11)(1667,8e-12)(1668,2.8e-11)(1670,3.2e-12)(1671,1.5e-11)(1672,6.5e-12)(1673,2.2e-11)(1674,4e-12)(1675,1e-11)
(1677,4e-12)(1678,1.7e-11)(1679,8.5e-12)(1680,2.6e-11)(1681,4.5e-12)(1682,1.25e-11)(1683,5.8e-12)(1685,2.2e-11)(1686,1.6e-11)(1687,4.2e-12)(1688,7.5e-12)(1689,2.6e-11)(1690,1.1e-11)(1691,4.2e-12)(1693,1.9e-11)(1694,6e-12)(1695,2.7e-11)(1696,9.5e-12)(1697,4.6e-12)(1698,1.4e-11)(1700,5e-12)(1701,2.5e-11)
(1702,1.4e-11)(1703,2.1e-11)(1704,5.5e-12)(1705,9e-12)(1706,1.75e-11)(1708,5.2e-12)(1709,2e-11)(1710,6.2e-12)(1711,1.2e-11)(1712,5.5e-12)(1713,2.2e-11)(1714,8e-12)(1716,1.6e-11)(1717,5.2e-12)(1718,1.9e-11)(1719,1.05e-11)(1720,6e-12)(1721,2e-11)(1723,7e-12)(1724,5.5e-12)(1725,2e-11)(1726,1.3e-11)
(1515,5.5e-12)(1516.8,1.8e-11)(1518.5,3.2e-11)(1520.3,7.8e-12)(1522,3e-12)(1523.8,1.15e-11)(1525.5,2.4e-11)(1527.3,4.6e-12)(1529,1.5e-11)(1530.8,6.8e-12)(1532.5,2.8e-11)(1534.3,3.9e-12)(1536,1e-11)(1537.8,2.1e-11)(1539.5,5e-12)(1541.3,1.35e-11)(1543,3.3e-11)(1544.8,8.8e-12)(1546.5,4.2e-12)(1548.3,1.9e-11)(1550,6e-12)(1551.8,2.6e-11)
(1553.5,1.1e-11)(1555.3,3.8e-12)(1557,2e-11)(1558.8,5.5e-12)(1560.5,3e-11)(1562.3,9e-12)(1564,1.3e-11)(1565.8,4.5e-12)(1567.5,2.5e-11)(1569.3,7e-12)(1571,3.5e-11)(1572.8,1.8e-11)(1574.5,5e-12)(1576.3,1.2e-11)(1578,8e-12)(1579.8,2.8e-11)(1581.5,3.2e-12)(1583.3,1.5e-11)(1585,6.5e-12)(1586.8,2.2e-11)(1588.5,4e-12)(1590.3,1e-11)
(1592,3.3e-12)(1593.8,1.7e-11)(1595.5,8.5e-12)(1597.3,2.9e-11)(1599,4e-12)(1600.8,1.25e-11)(1602.5,5.8e-12)(1604.3,2.2e-11)(1606,1.6e-11)(1607.8,3.6e-12)(1609.5,7.5e-12)(1611.3,2.6e-11)(1613,1.1e-11)(1614.8,4.2e-12)(1616.5,1.9e-11)(1618.3,6e-12)(1620,3.2e-11)(1621.8,9.5e-12)(1623.5,3e-12)(1625.3,1.4e-11)(1627,5e-12)(1628.8,2.5e-11)
(1630.5,1.4e-11)(1632.3,2.1e-11)(1634,3.5e-12)(1635.8,9e-12)(1637.5,1.75e-11)(1639.3,4.8e-12)(1641,2.9e-11)(1642.8,6.2e-12)(1644.5,1.2e-11)(1646.3,3.7e-12)(1648,2.3e-11)(1649.8,8e-12)(1651.5,1.6e-11)(1653.3,5.2e-12)(1655,3.4e-11)(1656.8,1.05e-11)(1658.5,3.1e-12)(1660.3,2e-11)(1662,7e-12)(1663.8,4.4e-12)(1665.5,2.7e-11)(1667.3,1.3e-11)
(1669,1e-11)(1670.8,4e-12)(1672.5,2.2e-11)(1674.3,6.5e-12)(1676,1.5e-11)(1677.8,3.2e-12)(1679.5,2.8e-11)(1681.3,8e-12)(1683,1.2e-11)(1684.8,5e-12)(1686.5,1.8e-11)(1688.3,3.5e-11)(1690,7e-12)(1691.8,2.5e-11)(1693.5,4.5e-12)(1695.3,1.3e-11)(1697,9e-12)(1698.8,3e-11)(1700.5,5.5e-12)(1702.3,2e-11)(1704,3.8e-12)(1705.8,1.1e-11)
(1707.5,2.5e-11)(1709.3,5e-12)(1711,1.4e-11)(1712.8,3e-12)(1714.5,9.5e-12)(1716.3,3.2e-11)(1718,6e-12)(1719.8,1.9e-11)(1721.5,4.2e-12)(1723.3,1.1e-11)(1725,2.6e-11)(1726.8,7.5e-12)(1728.5,3.6e-12)(1730.3,1.6e-11)(1732,2.2e-11)(1733.8,5.8e-12)(1735.5,1.25e-11)(1737.3,4e-12)(1739,2.9e-11)(1740.8,8.5e-12)(1742.5,1.7e-11)(1744.3,3.3e-12)
(1746,1.3e-11)(1747.8,2.7e-11)(1749.5,4.4e-12)(1751.3,7e-12)(1753,2e-11)(1754.8,3.1e-12)(1756.5,1.05e-11)(1758.3,3.4e-11)(1760,5.2e-12)(1761.8,1.6e-11)(1763.5,8e-12)(1765.3,2.3e-11)(1767,3.7e-12)(1768.8,1.2e-11)(1770.5,6.2e-12)(1772.3,2.9e-11)(1774,4.8e-12)(1775.8,1.75e-11)(1777.5,9e-12)(1779.3,3.5e-12)(1781,2.1e-11)(1782.8,1.4e-11)};
% green
\addplot[grp] coordinates {(1054,1.45e-11)(1091,1.9e-11)(1053,4.9e-13)(1115,4.8e-13)(1230,3.5e-12)(1245,1.4e-11)(1250,2e-11)(1264,1.1e-11)(1266,2.2e-10)(1334,6.9e-12)(1379,1.5e-10)(1388,1.4e-10)(1391,1.3e-9)(1404,6.9e-10)(1437,7.2e-10)(1442,8.5e-10)(1460,6.9e-10)(1464,3e-10)(1479,5.2e-10)(1488,2.6e-10)(1519,1.3e-9)(1537,8.5e-10)(1559,7.9e-10)(1572,1.1e-9)(1203,2e-10)(1287,3e-10)(1307,1.35e-10)};
% lines
\addplot[cred,line width=1pt,forget plot] coordinates {(1010,1.17e-9)(1850,1.95e-9)};
\addplot[cred,line width=1pt,dash pattern=on 3.5pt off 3pt,forget plot] coordinates {(1010,1.36e-11)(1845,2.6e-11)};
\node[lbl] at (axis cs:1653,2.8e-9) {PandaX-2017};
\node[lbl] at (axis cs:1120.6,6.5e-12) {LZ-7.2T};
\end{axis}
%%%%%%%%%%%%%%%%%%%%%%%%%%%% TOP RIGHT
\begin{axis}[at={(18.84cm,13.15cm)}, xmin=1000, xmax=2100, ymin=1e-14, ymax=1e-7,
  xtick={1000,1200,...,2000}, ytickten={-14,...,-7},
  title={Stop coannihilation},
  legend style={xshift=-0.13cm,yshift=0.05cm}]
\mylegend
\addplot[gc] coordinates {(1005,1.3e-9)(1008,4e-9)(1012,1.2e-8)(1016,2e-9)(1020,7e-9)(1024,1.5e-9)(1028,1.6e-8)(1032,3e-9)(1035,2.8e-8)(1038,6e-9)(1042,1.3e-9)(1046,1e-8)(1050,2.5e-9)(1054,5e-9)(1058,1.5e-8)(1062,1.6e-9)(1066,8e-9)(1070,3.5e-9)(1074,1.2e-8)(1078,2e-9)(1082,6e-9)(1086,1.4e-9)(1090,4e-9)(1094,9e-9)(1098,2.2e-9)(1102,1.8e-8)(1106,1.5e-9)(1110,5.5e-9)(1114,3e-9)(1118,1.1e-8)(1122,1.7e-9)(1126,7e-9)(1130,2.5e-9)(1134,1.5e-8)(1138,4.5e-9)(1142,1.3e-9)(1146,9e-9)(1150,2e-8)(1154,3e-9)(1158,6e-9)(1162,1.6e-9)(1166,1.2e-8)(1170,4e-9)(1174,2.2e-9)(1178,8e-9)(1182,1.4e-9)(1186,5e-9)(1190,1.6e-8)(1194,2.8e-9)(1198,4e-8)(1202,1.5e-9)(1206,9e-9)(1210,3.5e-9)(1214,1.8e-9)(1218,6.5e-9)(1222,2.5e-9)(1226,1.2e-8)(1230,1.4e-9)(1234,4e-9)(1238,2e-9)(1242,7e-9)(1246,2.3e-8)(1250,3e-9)(1254,1.5e-9)(1258,5e-9)(1262,2.2e-9)(1266,9e-9)(1270,1.6e-9)(1274,3.5e-9)(1278,2e-9)(1282,6e-9)(1286,1.4e-9)(1290,4e-9)
(1010,2.5e-9)(1030,1.8e-9)(1050,3.5e-9)(1070,1.8e-9)(1090,2.8e-9)(1110,1.9e-9)(1130,3.8e-9)(1150,1.6e-9)(1170,2.6e-9)(1190,1.9e-9)(1210,2.4e-9)(1230,3e-9)(1250,1.9e-9)(1270,2.5e-9)(1020,5e-9)(1060,6.5e-9)(1100,4.5e-9)(1140,7.5e-9)(1180,3.5e-9)(1220,4.5e-9)(1260,3.2e-9)
(1290,2.5e-8)(1295,2e-8)(1298,3e-8)(1302,2.2e-8)(1305,1.6e-8)(1308,2.8e-8)(1312,2.4e-8)(1315,1.8e-8)(1318,3.2e-8)(1322,2.6e-8)(1325,2e-8)(1328,3.5e-8)(1332,2.9e-8)(1335,2.2e-8)(1338,3.3e-8)(1342,2.6e-8)(1345,4e-8)(1348,3e-8)(1352,2.3e-8)(1355,3.6e-8)(1358,2.8e-8)(1362,3.2e-8)(1365,2.5e-8)(1368,3.8e-8)(1372,3e-8)(1375,2.6e-8)(1378,3.5e-8)(1382,4.2e-8)(1385,2.9e-8)(1388,3.3e-8)(1392,2.6e-8)(1395,3.8e-8)(1398,3.1e-8)(1402,3.5e-8)(1405,2.8e-8)(1408,3.9e-8)(1412,3.2e-8)(1415,2.6e-8)(1418,3.6e-8)(1422,3e-8)(1425,3.9e-8)(1428,3.3e-8)(1432,2.8e-8)(1435,3.7e-8)(1438,3.1e-8)(1442,3.5e-8)(1445,2.7e-8)(1448,3.8e-8)(1452,3.2e-8)(1455,3.5e-8)(1458,2.9e-8)(1462,3.8e-8)(1465,3.3e-8)(1468,3e-8)(1472,3.6e-8)(1475,3.9e-8)(1478,3.2e-8)(1482,3.5e-8)(1485,4.1e-8)(1488,3.4e-8)(1492,3.7e-8)(1495,3.1e-8)(1498,3.6e-8)(1505,3.9e-8)(1512,3.3e-8)(1518,3.7e-8)(1525,3.4e-8)(1532,3.8e-8)(1538,3.2e-8)(1545,3.6e-8)(1552,3.9e-8)(1558,3.4e-8)(1565,3.7e-8)(1572,3.3e-8)(1578,3.6e-8)(1585,3.9e-8)(1592,3.4e-8)(1598,3.7e-8)(1605,3.2e-8)(1612,3.6e-8)
(1300,1.3e-8)(1305,4e-9)(1310,1.5e-9)(1318,7e-9)(1325,2.5e-9)(1332,1e-8)(1340,5e-9)(1348,1.7e-9)(1355,1.4e-8)(1362,3.5e-9)(1370,8e-9)(1378,2.2e-9)(1385,1.2e-8)(1392,5.5e-9)(1400,1.6e-9)(1408,9e-9)(1415,3e-9)(1422,1.5e-8)(1430,6e-9)(1438,2e-9)(1445,1.1e-8)(1452,4e-9)(1460,7e-9)(1468,2.5e-9)(1475,1.3e-8)(1482,5e-9)(1318,1.8e-8)(1345,1.2e-8)(1395,1.8e-8)(1440,1.9e-8)(1330,1.6e-9)(1380,1.3e-9)};
\addplot[gtd] coordinates {(1620,3.5e-8)(1628,3e-8)(1635,3.6e-8)(1642,3.2e-8)(1650,3.7e-8)(1658,3.1e-8)(1665,3.5e-8)(1672,3.3e-8)(1680,3.6e-8)(1688,3e-8)(1695,3.4e-8)(1702,2.8e-8)(1710,3.2e-8)(1718,2.6e-8)(1725,3e-8)(1732,2.5e-8)(1740,3.1e-8)(1750,2.4e-8)(1760,3e-8)(1770,2.6e-8)(1780,3.2e-8)(1790,2.7e-8)(1800,3e-8)(1810,2.3e-8)(1820,2.8e-8)(1835,2.2e-8)(1850,2.6e-8)(1870,1.2e-8)(1890,1.1e-8)(1910,6e-9)(1925,5e-9)
(1452,8e-9)(1460,2e-8)(1468,4e-9)(1476,1.2e-8)(1484,2.5e-9)(1492,6e-9)(1500,1.8e-8)(1508,3.5e-9)(1516,9e-9)(1524,2.2e-9)(1532,1.4e-8)(1540,5e-9)(1548,2.2e-8)(1556,3e-9)(1564,1e-8)(1572,6.5e-9)(1580,2e-9)(1588,1.6e-8)(1596,4e-9)(1604,8e-9)(1612,2.5e-9)(1620,1.3e-8)(1628,5e-9)(1636,2e-8)(1644,3e-9)(1652,9e-9)(1660,6e-9)(1668,1.5e-8)(1676,2.2e-9)(1684,1.1e-8)(1692,4.5e-9)(1700,2e-8)(1708,7e-9)(1716,2.6e-9)(1724,1.3e-8)(1732,5e-9)(1740,1.8e-8)(1748,3e-9)(1756,9e-9)(1764,2.2e-9)(1772,1.4e-8)(1780,5.5e-9)(1788,2.4e-9)(1796,1.1e-8)(1804,4e-9)(1812,1.7e-8)(1820,2.6e-9)(1828,7e-9)(1836,1.3e-8)(1844,3.5e-9)(1852,8e-9)(1860,2.2e-9)(1868,5e-9)(1876,3e-9)(1884,7e-9)(1892,2.5e-9)(1900,4e-9)(1915,3e-9)(1550,1.3e-8)(1610,1.8e-8)(1660,2.3e-8)(1720,1.6e-8)(1780,2e-8)(1840,1.8e-8)};
% cyan
\addplot[fill=ccyan,draw=ccyan,forget plot] coordinates {(1012,8e-10)(1025,1e-9)(1040,7e-10)(1055,9.5e-10)(1070,7e-10)(1085,8.5e-10)(1100,6e-10)(1115,7.5e-10)(1130,5e-10)(1145,6e-10)(1160,4e-10)(1172,4.5e-10)(1185,2.5e-10)(1195,2.8e-10)(1200,1.5e-10)(1212,1e-10)(1205,6e-11)(1215,4e-11)(1208,2.5e-11)(1205,1.7e-11)(1150,1.6e-11)(1100,1.7e-11)(1050,1.6e-11)(1015,1.8e-11)(1010,1e-10)(1012,8e-10)};
\addplot[cyp] coordinates {(1012,9e-10)(1018,5e-10)(1024,1.1e-9)(1030,7e-10)(1036,4e-10)(1042,1e-9)(1048,6e-10)(1054,1.2e-9)(1060,4.5e-10)(1066,8e-10)(1072,1.1e-9)(1078,5.5e-10)(1084,9e-10)(1090,3.5e-10)(1096,1.2e-9)(1102,7e-10)(1108,4e-10)(1114,1e-9)(1120,6e-10)(1126,1.25e-9)(1132,4.5e-10)(1138,8.5e-10)(1144,3e-10)(1150,1.1e-9)(1156,6e-10)(1162,9e-10)(1168,4e-10)(1174,1.2e-9)(1180,7e-10)(1186,3.5e-10)(1192,9.5e-10)(1198,5e-10)(1204,1.2e-9)(1210,2.5e-10)(1216,7e-10)(1222,4e-10)(1228,1e-9)(1234,2e-10)(1240,6e-10)(1246,1.2e-9)(1252,3e-10)(1258,8e-10)(1264,1.5e-10)(1270,5e-10)(1276,1e-9)(1282,2.5e-10)(1288,7e-10)
(1232,8e-11)(1238,4e-11)(1244,1.5e-10)(1250,2.2e-11)(1256,1.1e-10)(1262,5e-11)(1268,2e-10)(1272,1.8e-11)(1276,7e-11)(1280,3.5e-11)(1284,1.3e-10)(1288,2.5e-11)(1292,6e-11)(1296,1.7e-10)(1270,1e-10)(1285,4.5e-11)(1260,1.6e-11)(1245,2.5e-10)
(1010,1.5e-11)(1030,1.5e-11)(1060,1.6e-11)(1090,1.5e-11)(1120,1.6e-11)(1150,1.55e-11)(1180,1.6e-11)(1210,1.65e-11)(1011,3e-11)(1010,2e-10)
(1182,5e-11)(1185,1.5e-10)(1188,2.5e-11)(1191,4e-10)(1194,8e-11)(1197,1.8e-11)(1200,2e-10)(1203,5e-11)(1206,6e-10)(1209,1.2e-10)(1212,3e-11)(1215,3e-10)(1218,7e-11)(1221,1.8e-11)(1224,1.5e-10)(1227,4e-11)(1230,5e-10)(1233,2.5e-11)(1236,9e-11)(1239,3e-10)(1242,1.9e-11)(1245,6e-11)(1248,1.2e-10)(1251,8e-10)(1254,3.5e-11)(1257,2.2e-10)(1260,7e-11)(1263,4e-10)(1266,2e-11)(1269,1.3e-10)(1272,4.5e-11)(1275,7e-10)(1278,9e-11)(1281,2.5e-11)(1284,3e-10)(1287,6e-11)(1290,1.6e-10)(1293,3.5e-11)(1296,5e-10)(1299,1e-10)(1190,1.1e-9)(1215,9e-10)(1240,1.1e-9)(1265,9e-10)(1290,1.2e-9)
(1316,1.2e-9)(1319,3e-10)(1322,6e-11)(1325,8e-10)(1328,1.6e-11)(1331,1.5e-10)(1334,4e-10)(1337,2.5e-11)(1340,1e-9)(1343,9e-11)(1346,5e-10)(1349,2e-11)(1352,2e-10)(1355,1.3e-9)(1358,4e-11)(1361,7e-10)(1364,1.2e-10)(1367,2.5e-10)(1370,1.8e-11)(1373,9e-10)(1376,6e-11)(1379,3.5e-10)(1382,1.1e-10)(1385,1.2e-9)(1388,3e-11)(1391,5e-10)(1394,1.8e-10)(1397,7e-11)(1400,8e-10)(1403,2e-11)(1406,2.5e-10)(1409,1.3e-10)(1412,1e-9)(1415,4.5e-11)(1418,4e-10)(1421,1.8e-11)(1424,1.6e-10)(1427,7e-10)(1430,6e-11)(1433,3e-10)(1436,1.2e-9)(1439,3e-11)(1442,1.1e-10)(1445,5e-10)(1448,2e-11)(1451,2.2e-10)(1454,9e-10)(1457,8e-11)(1460,4e-10)(1463,3.5e-11)(1466,1.5e-10)(1469,1.4e-9)(1472,6e-10)(1475,2.5e-11)(1478,1.2e-10)(1481,3e-10)(1484,5e-11)(1487,1e-9)(1490,2e-10)(1494,1.8e-11)(1498,7e-10)(1502,9e-11)(1506,3.5e-10)(1510,4e-11)(1514,1.1e-9)(1518,1.6e-10)(1522,5e-10)(1526,6e-11)(1530,2.5e-10)(1535,1.3e-9)(1540,8e-11)(1545,4e-10)(1550,1.2e-10)(1555,7e-10)(1560,3e-11)(1565,2e-10)(1570,1.1e-9)(1575,6e-11)(1580,3.5e-10)(1588,1.5e-10)(1595,5e-10)(1605,2.5e-10)(1330,5e-10)(1345,1.5e-11)(1360,3e-10)(1375,1.6e-11)(1390,1.5e-11)(1405,6e-10)(1420,9e-11)(1335,1e-10)(1350,7e-11)(1365,4e-10)(1380,1.7e-10)(1395,3e-10)(1410,5e-11)(1425,3e-11)(1440,2.5e-10)(1325,2.5e-10)(1340,3.5e-11)(1355,8e-11)(1370,5e-10)(1385,7e-11)(1400,4e-11)(1415,2e-10)(1430,1.5e-10)(1445,8e-11)(1460,1.8e-11)(1475,4e-10)
(1321,4e-10)(1324,1.2e-10)(1327,3e-11)(1330,7e-10)(1333,6e-11)(1336,2.5e-10)(1339,1.1e-9)(1342,1.7e-11)(1345,3.5e-10)(1348,1.2e-10)(1351,6e-10)(1354,2.5e-11)(1357,1.5e-10)(1360,9e-10)(1363,5e-11)(1366,3.5e-10)(1369,1e-10)(1372,2.2e-11)(1375,6e-10)(1378,2e-10)(1381,4e-11)(1384,1.2e-9)(1387,1.4e-10)(1390,4.5e-10)(1393,2.5e-11)(1396,8e-10)(1399,9e-11)(1402,3e-10)(1405,1.8e-11)(1408,5e-10)(1411,1.5e-10)(1414,7e-11)(1417,1e-9)(1420,2.5e-10)(1423,4e-11)(1426,6e-10)(1429,1.2e-10)(1432,2e-11)(1435,3.5e-10)(1438,8e-11)(1441,9e-10)(1444,1.6e-10)(1447,5e-11)(1450,4.5e-10)(1453,1.3e-10)(1456,2.2e-11)(1459,6.5e-10)(1462,1e-10)(1465,3e-10)(1468,5e-11)};
% blue
\addplot[fill=cblue,draw=cblue,forget plot] coordinates {(1700,3e-12)(1720,2.6e-12)(1740,3e-12)(1760,2.6e-12)(1780,2.9e-12)(1800,2.5e-12)(1820,2.9e-12)(1840,2.5e-12)(1860,2.8e-12)(1880,2.5e-12)(1900,2.8e-12)(1920,2.5e-12)(1940,2.8e-12)(1960,2.6e-12)(1980,2.9e-12)(2000,2.7e-12)(2015,3.5e-12)(2028,4.5e-12)(2020,6e-12)(2030,8e-12)(2018,1e-11)(2022,1.3e-11)(2005,1.5e-11)(1995,2.1e-11)(1980,1.7e-11)(1968,2.6e-11)(1955,2e-11)(1942,2.9e-11)(1930,2.2e-11)(1915,3e-11)(1900,2.3e-11)(1885,2.8e-11)(1870,2e-11)(1855,2.6e-11)(1840,1.8e-11)(1825,2.3e-11)(1810,1.6e-11)(1795,2e-11)(1780,1.3e-11)(1765,1.7e-11)(1750,1.1e-11)(1735,1.3e-11)(1722,8e-12)(1712,9e-12)(1705,6e-12)(1712,4.5e-12)(1700,3e-12)};
\addplot[blp] coordinates {(1462,5e-11)(1466,2e-11)(1470,1.2e-10)(1474,8e-12)(1478,3.5e-11)(1482,2e-10)(1486,1.3e-11)(1490,6e-11)(1494,4e-10)(1498,6e-12)(1502,2.5e-11)(1506,1.5e-10)(1510,4e-12)(1514,8e-11)(1518,3e-10)(1522,1.5e-11)(1526,5e-10)(1530,4.5e-11)(1534,5e-12)(1538,2e-10)(1542,2.2e-11)(1546,7e-10)(1550,9e-11)(1554,3e-12)(1558,3.5e-11)(1562,4e-10)(1566,1.2e-11)(1570,1.4e-10)(1574,8e-10)(1578,5e-11)(1582,3e-12)(1586,2.5e-10)(1590,1.8e-11)(1594,1e-9)(1598,7e-11)(1602,6e-12)(1540,6e-12)(1560,5e-12)(1580,8e-12)(1600,4e-12)(1520,7e-12)(1500,1.1e-11)
(1604,3e-10)(1608,1.3e-11)(1612,1.2e-9)(1616,4e-11)(1620,2.8e-12)(1624,1.5e-10)(1628,7e-12)(1632,6e-10)(1636,2.5e-11)(1640,9e-11)(1644,3.5e-12)(1648,1.4e-9)(1652,4e-10)(1656,1.5e-11)(1660,6e-11)(1664,5e-12)(1668,2.2e-10)(1672,9e-10)(1676,3e-11)(1680,3e-12)(1684,1.2e-10)(1688,1.1e-11)(1692,5e-10)(1696,1.5e-9)(1700,6e-11)(1704,4e-12)(1708,2.5e-10)(1712,2e-11)(1716,8e-10)(1720,9e-11)(1724,7e-12)(1728,3.5e-10)(1732,4e-11)(1736,1.4e-9)(1740,1.6e-10)(1744,1.5e-11)(1748,6e-10)(1620,2.5e-10)(1640,7e-10)(1660,1.1e-9)(1680,4.5e-10)(1700,2.5e-10)(1720,1.2e-9)(1740,4e-10)(1630,5e-11)(1650,2e-11)(1670,8e-11)(1690,3e-11)(1710,1.5e-10)(1730,7e-11)(1750,2.5e-11)
(1752,1e-10)(1756,1.6e-9)(1760,3e-11)(1764,5e-10)(1768,7e-11)(1772,1.2e-9)(1776,2e-10)(1780,1.8e-11)(1784,8e-10)(1788,1.3e-10)(1792,4.5e-11)(1796,1.7e-9)(1800,3e-10)(1804,6e-11)(1808,1e-9)(1812,2.5e-11)(1816,4.5e-10)(1820,9e-11)(1824,1.5e-9)(1828,2e-10)(1832,4e-11)(1836,7e-10)(1840,1.2e-10)(1844,1.8e-9)(1848,3e-10)(1852,6e-11)(1856,1.1e-9)(1860,1.5e-10)(1864,3e-11)(1868,6e-10)(1872,2.5e-10)(1876,1.3e-9)(1880,8e-11)(1884,4e-10)(1888,1.6e-10)(1892,7e-10)(1896,5e-11)(1900,3e-10)(1760,6e-10)(1790,3.5e-10)(1820,6e-10)(1850,8e-10)(1880,6e-10)(1770,1.5e-10)(1800,1e-10)(1830,1.3e-10)(1860,4e-10)(1890,1.2e-10)(1775,4e-11)(1805,2.2e-10)(1835,3e-10)(1865,2e-10)(1895,2.5e-10)
(1904,1.8e-10)(1908,4e-10)(1912,8e-11)(1916,2.5e-10)(1920,4e-11)(1924,1.5e-10)(1928,3e-10)(1932,6e-11)(1936,2e-10)(1940,1e-10)(1944,3e-11)(1948,1.6e-10)(1952,7e-11)(1956,2.5e-10)(1960,4e-11)(1964,1.2e-10)(1968,6e-11)(1972,9e-11)(1976,3e-11)(1980,5e-11)(1984,2e-11)(1988,4e-11)(1992,6e-11)(1996,3e-11)(2000,4e-11)(2005,2e-11)(2010,3.5e-11)(2015,1.5e-11)(2020,2.5e-11)(2025,1e-11)(2030,1.5e-11)(2035,6e-12)(2040,4e-12)(2036,9e-12)(2025,5e-12)
(1610,3e-12)(1625,5e-12)(1640,2.6e-12)(1655,8e-12)(1670,2.7e-12)(1685,6e-12)(1700,2.6e-12)(1715,9e-12)(1730,2.5e-12)(1745,5e-12)(1760,2.6e-12)(1775,7e-12)(1790,2.5e-12)(1805,6e-12)(1820,2.6e-12)(1835,8e-12)(1850,2.5e-12)(1865,5e-12)(1880,2.6e-12)(1895,7e-12)(1910,2.6e-12)(1925,6e-12)(1940,2.7e-12)(1955,8e-12)(1970,2.8e-12)(1985,5e-12)(2000,3e-12)(2015,7e-12)(2030,3.5e-12)
(1705,1.5e-11)(1715,4e-11)(1725,2.5e-11)(1735,6e-11)(1745,1.2e-11)(1755,5e-11)(1765,1.5e-11)(1775,1e-10)(1785,3e-11)(1795,1.5e-11)(1805,8e-11)(1815,4e-11)(1825,1.6e-11)(1835,6e-11)(1845,2.5e-11)(1855,1.2e-10)(1865,1.2e-11)(1875,4e-11)(1885,2e-11)(1895,9e-11)(1905,3e-11)(1915,1.4e-11)(1925,7e-11)(1935,2e-11)(1945,5e-11)(1955,1.5e-11)(1965,3e-11)(1975,1.2e-11)(1985,2.5e-11)(1995,1.5e-11)};
\addplot[blp] coordinates {(1555,1.5e-10)(1559,6e-10)(1563,2.5e-10)(1567,8e-10)(1571,3.5e-10)(1575,1e-10)(1579,7e-10)(1583,2e-10)(1587,4.5e-10)(1591,9e-10)(1595,1.3e-10)(1599,5e-10)(1603,3e-10)(1607,9e-10)(1611,1.8e-10)(1615,1.2e-10)(1619,5e-10)(1623,2.8e-10)(1627,1.2e-9)(1631,4e-10)(1635,1.1e-10)(1639,7e-10)(1643,2.2e-10)(1647,4e-10)(1651,1.4e-9)(1655,1.6e-10)(1659,5.5e-10)(1663,3.2e-10)(1667,8e-10)(1671,1.9e-10)(1675,1.4e-10)(1679,6.5e-10)(1683,2.3e-10)(1687,1.1e-9)(1691,3.8e-10)(1695,1.2e-10)(1699,7.5e-10)(1703,2.1e-10)(1707,4.8e-10)(1711,1.5e-9)(1715,1.4e-10)(1719,5.2e-10)(1723,2.7e-10)(1727,9.5e-10)(1731,1.7e-10)(1735,1.3e-10)(1739,6.2e-10)(1743,2.4e-10)(1747,1.3e-9)(1751,3.3e-10)(1755,1.1e-10)(1759,8.5e-10)(1763,2.1e-10)(1767,4.2e-10)(1771,1.6e-9)(1775,1.2e-10)(1779,5.4e-10)(1783,3.1e-10)(1787,9e-10)(1791,1.9e-10)(1795,1.4e-10)(1799,6.3e-10)(1803,2.6e-10)(1807,1.2e-9)(1811,3.6e-10)(1815,1.05e-10)(1819,8.2e-10)(1823,2.1e-10)(1827,4.6e-10)(1831,1.6e-9)(1835,1.35e-10)(1839,5.2e-10)(1843,3.1e-10)(1847,9.2e-10)(1851,1.8e-10)(1855,1.5e-10)(1859,6e-10)(1863,2.5e-10)(1867,1.1e-9)(1871,3.5e-10)(1875,1e-10)(1879,7e-10)(1883,2e-10)(1887,4.5e-10)(1891,1.2e-10)(1895,3e-10)(1899,1.5e-10)(1903,2.2e-10)
(1502,1.5e-11)(1505,4e-11)(1508,2.2e-11)(1512,7e-11)(1515,1.2e-11)(1518,3e-11)(1522,5.5e-11)(1525,1.8e-11)(1528,9e-11)(1532,2.6e-11)(1535,1.1e-11)(1538,4.5e-11)(1542,6.5e-11)(1545,2e-11)(1548,3.5e-11)(1552,1.4e-11)(1555,4.2e-11)(1558,2.4e-11)(1562,7.5e-11)(1565,1.3e-11)(1568,3.2e-11)(1572,5.8e-11)(1575,1.7e-11)(1578,8.5e-11)(1582,2.8e-11)(1585,1.15e-11)(1588,4.8e-11)(1592,6.2e-11)(1595,2.1e-11)(1598,3.7e-11)(1602,1.6e-11)(1605,3.8e-11)(1608,2.3e-11)(1612,6.8e-11)(1615,1.25e-11)(1618,3.1e-11)(1622,5.2e-11)(1625,1.9e-11)(1628,9.5e-11)(1632,2.5e-11)(1635,1.05e-11)(1638,4.3e-11)(1642,6.8e-11)(1645,2.05e-11)(1648,3.4e-11)(1652,1.5e-11)(1655,4.1e-11)(1658,2.3e-11)(1662,7.2e-11)(1665,1.2e-11)(1668,3e-11)(1672,5.6e-11)(1675,1.8e-11)(1678,8.8e-11)(1682,2.7e-11)(1685,1.1e-11)(1688,4.6e-11)(1692,6.4e-11)(1695,2e-11)(1698,3.6e-11)(1702,1.5e-11)(1705,4e-11)(1708,2.2e-11)(1712,7e-11)(1715,1.2e-11)(1718,3e-11)(1722,5.5e-11)(1725,1.8e-11)(1728,9e-11)(1732,2.6e-11)(1735,1.1e-11)(1738,4.5e-11)(1742,6.5e-11)(1745,2e-11)(1748,3.5e-11)(1752,1.4e-11)(1755,4.2e-11)(1758,2.4e-11)(1762,7.5e-11)(1765,1.3e-11)(1768,3.2e-11)(1772,5.8e-11)(1775,1.7e-11)(1778,8.5e-11)(1782,2.8e-11)(1785,1.15e-11)(1788,4.8e-11)(1792,6.2e-11)(1795,2.1e-11)(1798,3.7e-11)(1802,1.6e-11)(1805,3.8e-11)(1808,2.3e-11)(1812,6.8e-11)(1815,1.25e-11)(1818,3.1e-11)(1822,5.2e-11)(1825,1.9e-11)(1828,9.5e-11)(1832,2.5e-11)(1835,1.05e-11)(1838,4.3e-11)(1842,6.8e-11)(1845,2.05e-11)(1848,3.4e-11)(1852,1.5e-11)(1855,4.1e-11)(1858,2.3e-11)(1862,7.2e-11)(1865,1.2e-11)(1868,3e-11)(1872,5.6e-11)(1875,1.8e-11)(1878,8.8e-11)(1882,2.7e-11)(1885,1.1e-11)(1888,4.6e-11)(1892,6.4e-11)(1895,2e-11)(1898,3.6e-11)(1902,1.5e-11)(1905,4e-11)(1908,2.2e-11)(1912,7e-11)(1915,1.2e-11)(1918,3e-11)(1922,5.5e-11)(1925,1.8e-11)(1928,8e-11)(1932,2.6e-11)(1935,1.1e-11)(1938,4.5e-11)(1942,6e-11)(1945,2e-11)(1948,3.5e-11)(1952,1.4e-11)(1955,4.2e-11)(1958,2.4e-11)(1962,5e-11)(1965,1.3e-11)(1968,3.2e-11)(1972,4.5e-11)(1975,1.7e-11)(1978,3.5e-11)(1982,2.8e-11)(1985,1.15e-11)(1988,3.8e-11)(1992,2.2e-11)(1995,1.6e-11)(1998,3e-11)
(1505,6e-12)(1510,9e-12)(1515,5e-12)(1520,1.1e-11)(1525,4.5e-12)(1530,7e-12)(1535,1.1e-11)(1540,4e-12)(1545,8e-12)(1550,5e-12)(1555,3.5e-12)(1560,9e-12)(1565,4e-12)(1570,6.5e-12)(1575,2.8e-12)(1580,5.5e-12)(1585,1.05e-11)(1590,3.5e-12)(1595,7e-12)(1600,4.5e-12)(1605,2.7e-12)(1610,6e-12)(1615,4e-12)(1620,9e-12)(1625,2.7e-12)(1630,5e-12)(1635,1.1e-11)(1640,3.5e-12)(1645,7e-12)(1650,4.5e-12)(1655,3e-12)(1660,6e-12)(1665,4e-12)(1670,9e-12)(1675,2.7e-12)(1680,5e-12)(1685,1.1e-11)(1690,3.5e-12)(1695,7e-12)(1700,4.5e-12)(1705,3e-12)(1710,6e-12)(1715,4e-12)(1720,9e-12)(1725,2.7e-12)(1730,5e-12)(1735,1.1e-11)(1740,3.5e-12)(1745,7e-12)(1750,4.5e-12)(1755,3e-12)(1760,6e-12)(1765,4e-12)(1770,9e-12)(1775,2.7e-12)(1780,5e-12)(1785,1.1e-11)(1790,3.5e-12)(1795,7e-12)(1800,4.5e-12)(1805,3e-12)(1810,6e-12)(1815,4e-12)(1820,9e-12)(1825,2.7e-12)(1830,5e-12)(1835,1.1e-11)(1840,3.5e-12)(1845,7e-12)(1850,4.5e-12)(1855,3e-12)(1860,6e-12)(1865,4e-12)(1870,9e-12)(1875,2.7e-12)(1880,5e-12)(1885,1.1e-11)(1890,3.5e-12)(1895,7e-12)(1900,4.5e-12)(1905,3e-12)(1910,6e-12)(1915,4e-12)(1920,9e-12)(1925,2.7e-12)(1930,5e-12)(1935,1.1e-11)(1940,3.5e-12)(1945,7e-12)(1950,4.5e-12)(1955,3e-12)(1960,6e-12)(1965,4e-12)(1970,9e-12)(1975,2.7e-12)(1980,5e-12)(1985,1.1e-11)(1990,3.5e-12)(1995,7e-12)(2000,4.5e-12)(2005,3e-12)(2010,6e-12)(2015,4e-12)(2020,9e-12)(2025,2.9e-12)(2030,5e-12)(2035,1e-11)(2038,3.5e-12)};
% green
\addplot[grp] coordinates {(1016,3e-14)(1028,1.5e-12)(1032,6.5e-12)(1020,1.7e-12)(1024,8.3e-14)(1036,7.9e-14)(1048,5.1e-14)(1051,7.1e-14)(1065,6.8e-14)(1069,5e-12)(1075,3.9e-12)(1081,5.2e-13)(1085,5.2e-14)(1093,2.5e-12)(1102,6.3e-14)(1104,4.6e-13)(1108,3.2e-13)(1114,1.35e-13)(1122,6e-12)(1126,1.2e-12)(1130,6.9e-12)(1139,4.1e-13)(1143,2.4e-13)(1147,6.9e-12)(1149,4e-13)(1151,2.8e-13)(1163,2.8e-12)(1166,5.2e-14)(1171,1.1e-13)(1175,3.6e-12)(1185,5e-12)(1188,8.9e-13)(1192,5.2e-13)(1196,1.05e-13)(1202,9.1e-14)(1204,1.7e-12)(1208,1.9e-13)(1219,4.3e-12)(1221,4.1e-13)(1225,7.1e-14)(1231,2e-13)(1237,1.1e-13)(1241,1.9e-12)(1245,6.8e-13)(1253,2.3e-13)(1258,1.26e-13)(1266,1.7e-13)(1277,2.8e-13)(1282,5.6e-10)(1290,6.3e-14)(1294,1.5e-12)(1299,3.2e-13)(1303,1.6e-12)(1311,3e-12)(1299,6.6e-14)
(1040,1.2e-11)(1060,1.1e-11)(1090,1.3e-11)(1120,1.0e-11)(1140,1.2e-11)(1160,1.3e-11)(1056,2.3e-12)(1110,2.5e-12)(1180,1.6e-12)(1230,8e-13)(1260,2e-12)(1150,1.1e-12)(1205,7e-13)(1010,1.5e-11)(1270,8e-12)(1300,1e-12)(1018,5e-13)(1045,3e-13)(1200,3e-12)(1250,4e-12)(1180,1.5e-13)(1220,2.8e-13)(1345,6e-10)(1360,4e-11)(1395,9e-11)(1430,1.5e-10)(1440,2e-11)
(1530,2e-13)(1534,8e-13)(1538,1.3e-13)(1542,4e-13)(1546,1.5e-12)(1550,2.5e-13)(1554,6e-13)(1558,1.5e-13)(1562,1.1e-12)(1566,3e-13)(1570,1.8e-13)(1574,7e-13)(1578,1.3e-13)(1582,4e-13)(1586,2e-12)(1590,2.2e-13)(1594,9e-13)(1598,1.5e-13)(1602,5e-13)(1606,3e-13)(1610,1.2e-12)(1614,1.4e-13)(1618,6e-13)(1622,2.5e-13)(1626,1.6e-12)(1630,1.7e-13)(1634,4.5e-13)(1638,1.2e-13)(1642,8e-13)(1646,2.8e-13)(1650,1.3e-12)(1654,1.6e-13)(1658,5e-13)(1662,2e-13)(1666,9e-13)(1670,3.5e-13)(1674,1.4e-13)(1678,6e-13)(1682,2.2e-13)(1686,1.1e-12)(1690,1.5e-13)(1694,4e-13)(1698,2.5e-13)(1702,7e-13)(1706,1.7e-13)(1710,1.5e-12)(1714,3e-13)(1718,1.4e-13)(1722,5.5e-13)(1726,2.2e-13)(1730,9e-13)(1734,3.5e-13)(1738,1.6e-13)(1742,6e-13)(1746,2.5e-13)(1750,1.2e-12)(1754,4e-13)(1758,1.8e-13)(1762,7e-13)(1766,3e-13)(1770,1.8e-12)(1774,5e-13)(1778,2e-13)(1782,1e-12)(1786,3.5e-13)(1790,6e-13)(1794,2.2e-13)(1798,1.5e-12)(1802,4e-13)(1806,2.5e-13)(1810,8e-13)(1818,1.6e-12)(1825,5e-13)(1832,2e-13)(1840,9e-13)(1850,4e-13)(1858,2.2e-13)(1865,1.8e-12)(1880,1.9e-12)(1885,7e-13)(1890,1.9e-12)
(1552,4e-13)(1560,6e-13)(1568,2.8e-13)(1576,4.5e-13)(1584,2.4e-13)(1592,6e-13)(1600,3.5e-13)(1608,2e-13)(1616,4e-13)(1624,5.5e-13)(1632,3e-13)(1640,5e-13)(1648,2.5e-13)(1656,3.5e-13)(1664,6e-13)(1672,2.6e-13)(1680,4e-13)(1688,3e-13)(1696,5e-13)(1704,2.8e-13)(1556,1.1e-13)(1580,1.1e-13)
(1532,3.2e-13)(1536,1.2e-12)(1539,5.5e-13)(1543,2.2e-13)(1547,8e-13)(1550,1.4e-13)(1553,3.8e-13)(1557,1e-12)(1560,2.2e-13)(1564,5e-13)(1567,1.6e-13)(1571,9e-13)(1574,3.3e-13)(1578,1.9e-13)(1581,6.5e-13)(1585,1.3e-13)(1588,4.2e-13)(1592,1.5e-12)(1595,2.7e-13)(1599,7e-13)(1602,1.7e-13)(1606,4.8e-13)(1609,2.3e-13)(1613,8.5e-13)(1616,1.3e-13)(1620,3.7e-13)(1623,1.1e-12)(1627,2e-13)(1630,6e-13)(1634,2.9e-13)(1637,1.5e-13)(1641,5.2e-13)(1644,1.3e-12)(1648,2.1e-13)(1651,4.4e-13)(1655,1.4e-13)(1658,7.5e-13)(1662,3.2e-13)(1665,1.8e-13)(1669,5.8e-13)(1672,1.2e-12)(1676,2.4e-13)(1679,4e-13)(1683,1.5e-13)(1686,7.2e-13)(1690,3.4e-13)(1693,2e-13)(1697,9e-13)(1700,1.4e-13)(1704,4.6e-13)(1707,2.6e-13)(1711,6.5e-13)(1714,1.7e-13)(1718,1e-12)(1721,3.6e-13)(1725,2.1e-13)(1728,5.4e-13)(1732,1.5e-13)(1735,8e-13)(1739,3e-13)(1742,1.9e-13)(1746,6e-13)(1749,1.3e-12)(1753,2.5e-13)(1756,4.5e-13)(1760,1.6e-13)(1763,8.5e-13)(1767,3.3e-13)(1770,2.2e-13)(1774,6.8e-13)(1777,1.1e-12)(1781,2.8e-13)(1784,4.8e-13)(1788,1.8e-13)(1791,9e-13)(1795,3.7e-13)(1798,2.4e-13)(1802,6.2e-13)
(1452,3e-11)(1456,8e-12)(1460,1.5e-10)(1464,4e-12)(1468,2e-11)(1472,6e-11)(1476,3e-12)(1480,1e-11)(1484,3.5e-10)(1488,5e-12)(1492,2.5e-11)(1496,9e-11)(1500,2.2e-12)(1504,7e-12)(1508,4e-11)(1512,1.4e-12)(1516,1.5e-11)(1520,2.5e-10)(1524,3.5e-12)(1528,8e-11)(1532,1.2e-11)(1536,2e-12)(1540,4.5e-11)(1544,6e-12)(1548,1.5e-10)(1552,2.5e-12)(1556,2e-11)(1560,1.2e-9)(1564,9e-12)(1568,2e-12)(1572,6e-11)(1576,1.5e-12)(1580,2e-10)(1584,4e-12)(1588,3e-11)(1592,1.3e-12)(1596,9e-11)(1600,6e-12)(1610,1.5e-12)(1620,4e-10)(1630,2e-12)(1640,1.4e-11)(1650,1.8e-12)(1660,6e-11)(1670,1.5e-12)(1690,8e-12)(1710,1.6e-12)(1730,3e-11)(1750,2e-12)(1440,1.5e-11)(1445,5e-11)(1435,9e-12)(1470,1.2e-9)(1490,6e-10)(1510,1.3e-9)(1530,4e-10)(1575,7e-10)(1605,1e-9)(1615,2.5e-10)(1625,3e-11)(1645,5e-10)(1665,1.2e-10)(1685,3e-10)(1700,1e-10)(1720,2e-10)(1760,7e-11)(1800,2e-11)(1840,1e-11)(1420,2.5e-12)(1410,1.6e-12)(1480,1.6e-12)(1495,3e-13)(1505,1.2e-13)(1460,9e-13)(1520,7e-13)};
\addplot[cred,line width=1pt,forget plot] coordinates {(1000,1.2e-9)(2100,2.16e-9)};
\addplot[cred,line width=1pt,dash pattern=on 3.5pt off 3pt,forget plot] coordinates {(1011,1.35e-11)(2090,2.95e-11)};
\node[lbl] at (axis cs:1857,2.8e-9) {PandaX-2017};
\node[lbl] at (axis cs:1228.6,7.4e-12) {LZ-7.2T};
\end{axis}
%%%%%%%%%%%%%%%%%%%%%%%%%%%% BOTTOM LEFT
\begin{axis}[at={(5.14cm,3.58cm)}, xmin=1000, xmax=1850, ymin=1e-30, ymax=1e-23,
  xtick={1000,1100,...,1800}, ytickten={-30,...,-23},
  ylabel={$\langle\sigma v\rangle\ (cm^3/s)$}, xlabel={$m_{\tilde{\chi}_1^0}\ (GeV)$},
  legend style={xshift=-0.14cm,yshift=0.05cm}]
\mylegend
\addplot[gc] coordinates {(1003,1.1e-26)(1008,8e-27)(1012,6.5e-27)(1016,9.5e-27)(1020,7.5e-27)(1024,1.2e-26)(1028,6e-27)(1032,8.5e-27)(1036,1.05e-26)(1040,5.5e-27)(1044,9e-27)(1048,7e-27)(1052,1.15e-26)(1056,8e-27)(1060,6.5e-27)(1064,1e-26)(1068,7.5e-27)(1072,1.2e-26)(1076,8.5e-27)(1080,6.8e-27)(1085,1.1e-26)(1090,9e-27)(1095,7e-27)(1100,1.15e-26)(1105,8.5e-27)(1110,1.2e-26)(1115,7.2e-27)(1120,9.5e-27)(1125,1.25e-26)(1130,8e-27)(1135,1.05e-26)(1140,7e-27)(1145,1.3e-26)(1150,9e-27)(1155,1.1e-26)(1160,7.5e-27)(1165,1.6e-26)(1170,9.5e-27)(1175,1.2e-26)(1180,8e-27)(1185,1.45e-26)(1190,1e-26)(1195,1.8e-26)(1200,8.5e-27)(1205,1.25e-26)(1210,1.05e-26)(1215,1.5e-26)(1220,7.5e-27)(1225,1.2e-26)(1230,2e-26)(1235,9e-27)(1240,1.35e-26)(1245,1.1e-26)(1250,1.7e-26)(1255,7.5e-27)(1260,1.25e-26)(1265,9.5e-27)(1270,1.55e-26)(1275,7e-27)(1280,1.1e-26)(1285,1.4e-26)(1290,8.5e-27)(1295,1.2e-26)(1300,6.5e-27)(1305,1.05e-26)(1310,1.5e-26)(1315,7.5e-27)(1320,1.15e-26)(1325,8.5e-27)(1330,1.3e-26)(1335,7e-27)(1340,9.5e-27)(1345,1.1e-26)(1350,6.8e-27)(1355,1.2e-26)(1360,8e-27)(1365,1.6e-26)(1370,6.5e-27)(1375,1e-26)(1380,7.5e-27)(1385,1.35e-26)(1390,6.2e-27)(1395,8.5e-27)(1362,2.2e-26)(1372,1.9e-26)(1382,1.6e-26)(1340,2e-26)(1355,1.8e-26)(1300,2.1e-26)(1245,2.3e-26)(1150,1.8e-26)(1100,1.5e-26)(1020,5e-27)(1050,5.5e-27)(1080,6e-27)(1426,1.05e-26)(1462,1.25e-26)(1440,1.4e-26)};
\addplot[gtd] coordinates {(1158,6e-26)(1175,5.5e-26)(1203,6.3e-26)(1220,6.6e-26)(1232,6e-26)(1242,3.5e-26)(1258,5.9e-26)(1270,5.7e-26)(1283,2.6e-26)(1289,3.2e-26)(1300,5.2e-26)(1315,5.6e-26)(1330,5.2e-26)(1340,4.8e-26)(1350,5.5e-26)(1355,3.8e-26)(1359,2.3e-26)(1365,3e-26)(1375,5.6e-26)(1380,4.4e-26)(1388,3.2e-26)(1395,4.3e-26)(1400,4.9e-26)(1407,2.4e-26)(1412,4.6e-26)(1418,3.5e-26)(1426,3.4e-26)(1432,4.7e-26)(1440,4.4e-26)(1451,3.2e-26)(1458,4.4e-26)(1464,2.4e-26)(1470,4.5e-26)(1477,3.4e-26)(1483,4.3e-26)(1489,3.6e-26)(1495,4.2e-26)(1502,3.1e-26)(1508,4.1e-26)(1515,2.6e-26)(1520,4e-26)(1527,3.2e-26)(1533,3.9e-26)(1543,2.7e-26)(1548,3.8e-26)(1553,3e-26)(1560,3.9e-26)(1568,3.5e-26)(1575,3.7e-26)(1582,3.3e-26)(1590,3.6e-26)(1597,3e-26)(1605,3.5e-26)(1612,3.2e-26)(1620,3.4e-26)(1629,2.8e-26)(1636,3.3e-26)(1644,3.1e-26)(1652,3.2e-26)(1660,2.9e-26)(1668,3.1e-26)(1676,2.9e-26)(1684,3e-26)(1692,2.8e-26)(1700,3e-26)(1708,2.8e-26)(1716,2.9e-26)(1725,2.7e-26)(1734,2.9e-26)(1742,2.75e-26)(1750,2.8e-26)(1760,2.8e-26)(1410,1.4e-26)(1464,1.6e-26)(1480,1.9e-26)(1498,2e-26)(1510,2.2e-26)(1390,2e-26)(1340,1.6e-26)(1360,1.3e-26)(1320,1.9e-26)(1280,1.8e-26)(1540,2.2e-26)(1565,2.4e-26)(1430,2.8e-26)};
\addplot[gtu] coordinates {(1103,1.45e-29)(1106,1.35e-29)(1176,1.1e-29)(1236,9.5e-30)(1250,9e-30)(1255,8e-30)(1286,7.8e-30)(1296,7.4e-30)(1320,7.5e-30)(1353,6.6e-30)(1366,6.7e-30)(1425,6.2e-30)(1455,5e-30)(1515,4.6e-30)(1585,4e-30)(1591,3.8e-30)(1609,4.2e-30)(1626,3.5e-30)(1642,3.6e-30)};
\addplot[ccyan,line width=3pt,forget plot] coordinates {(1010,1.13e-26)(1385,5.9e-27)};
\addplot[cyp] coordinates {(1012,1.2e-26)(1020,1.1e-26)(1390,5.8e-27)(1421,5.6e-27)};
\addplot[cblue,line width=2pt,forget plot] coordinates {(1362,4.9e-26)(1810,2.6e-26)};
\addplot[blp] coordinates {(1229,5.8e-26)(1283,5.2e-26)(1300,5.1e-26)(1330,5e-26)(1365,4.9e-26)(1380,4.76e-26)(1400,4.63e-26)(1425,4.5e-26)(1450,4.31e-26)(1475,4.15e-26)(1500,4.0e-26)(1525,3.86e-26)(1550,3.73e-26)(1575,3.6e-26)(1600,3.47e-26)(1625,3.35e-26)(1650,3.24e-26)(1675,3.12e-26)(1700,3.01e-26)(1725,2.9e-26)(1750,2.8e-26)(1775,2.7e-26)(1800,2.6e-26)(1810,2.57e-26)};
\addplot[grp] coordinates {(1017,1.55e-29)(1039,1.5e-29)(1041,1.38e-29)(1052,1.78e-29)(1054,1.17e-29)(1053,4.2e-30)(1058,1.6e-29)(1061,1.3e-29)(1079,1.3e-29)(1091,8.7e-30)(1100,1.3e-29)(1107,1.3e-29)(1115,4.6e-30)(1161,1.26e-29)(1167,1.07e-29)(1188,1.02e-29)(1195,1.12e-29)(1201,1.17e-29)(1210,1e-29)(1218,8.9e-30)(1229,2.1e-29)(1245,1e-29)(1264,9.3e-30)(1274,8.7e-30)(1290,7.9e-30)(1306,8.1e-30)(1312,7.9e-30)(1323,7.8e-30)(1334,6.8e-30)(1338,7.1e-30)(1378,6.6e-30)(1388,6.9e-30)(1404,5.8e-30)(1423,5.8e-30)(1439,5.6e-30)(1443,5.3e-30)(1458,5.6e-30)(1464,5.8e-30)(1478,5.2e-30)(1487,5.4e-30)(1518,4.7e-30)(1537,4.3e-30)(1543,4.3e-30)(1560,4.3e-30)(1570,4.1e-30)};
\addplot[cmag,line width=0.5pt,forget plot] coordinates {(1000,2.5e-25)(1850,4.9e-25)};
\addplot[cred,line width=1pt,forget plot] coordinates {(1000,4.0e-26)(1201,5.6e-26)(1572,4.2e-26)(1850,6.2e-26)};
\node[lbl] at (axis cs:1244,5.6e-25) {Fermi-LAT-dSphs(2016)};
\node[lbl] at (axis cs:1456,6.4e-26) {AMS-02-antiproton};
\end{axis}
%%%%%%%%%%%%%%%%%%%%%%%%%%%% BOTTOM RIGHT
\begin{axis}[at={(18.84cm,3.58cm)}, xmin=1000, xmax=2100, ymin=1e-30, ymax=1e-23,
  xtick={1000,1200,...,2000}, ytickten={-30,...,-23},
  xlabel={$m_{\tilde{\chi}_1^0}\ (GeV)$},
  legend style={xshift=-0.18cm,yshift=0.08cm}]
\mylegend
\addplot[gc] coordinates {(1005,1.0e-26)(1010,8.5e-27)(1013,1.2e-26)(1016,1.3e-26)(1020,1.1e-26)(1024,9e-27)(1028,1.25e-26)(1032,1.05e-26)(1036,8.8e-27)(1040,1.2e-26)(1044,1e-26)(1048,1.3e-26)(1052,9.5e-27)(1056,1.15e-26)(1060,8.5e-27)(1064,1.05e-26)(1068,1.25e-26)(1072,9e-27)(1076,1.1e-26)(1080,8e-27)(1084,1.2e-26)(1088,9.5e-27)(1092,1.05e-26)(1096,8.5e-27)(1100,1.15e-26)(1105,9e-27)(1110,1.2e-26)(1115,1.0e-26)(1120,8.5e-27)(1125,1.1e-26)(1130,9.5e-27)(1135,1.25e-26)(1140,8e-27)(1145,1.05e-26)(1150,1.3e-26)(1155,9e-27)(1160,1.1e-26)(1165,8.5e-27)(1170,1.2e-26)(1175,9.5e-27)(1180,1.05e-26)(1185,8e-27)(1190,1.15e-26)(1195,1.35e-26)(1200,9e-27)(1205,1.1e-26)(1008,4.5e-27)(1015,6e-27)(1036,5e-27)(1042,4.7e-27)(1060,7e-27)
(1290,2.2e-26)(1294,1.6e-26)(1298,1.2e-26)(1302,2e-26)(1306,1.4e-26)(1310,1.8e-26)(1314,1.1e-26)(1318,2.3e-26)(1322,1.5e-26)(1326,8e-27)(1330,1.9e-26)(1334,1.3e-26)(1338,2.1e-26)(1342,1e-26)(1346,1.7e-26)(1350,6.5e-27)(1354,2.4e-26)(1358,1.4e-26)(1362,1.9e-26)(1366,1.1e-26)(1370,2.2e-26)(1374,1.6e-26)(1378,7e-27)(1382,2e-26)(1386,1.3e-26)(1390,2.5e-26)(1394,1.7e-26)(1398,9e-27)(1402,2.1e-26)(1406,1.4e-26)(1410,2.6e-26)(1414,1.8e-26)(1418,1.2e-26)(1422,2.3e-26)(1426,6e-27)(1430,1.9e-26)(1434,1.5e-26)(1438,2.7e-26)(1442,1.1e-26)(1446,2.1e-26)(1450,1.6e-26)(1455,2.9e-26)(1460,1.3e-26)(1465,2.2e-26)(1470,1.8e-26)(1475,2.6e-26)(1480,1.2e-26)(1485,2.4e-26)(1490,1.7e-26)(1495,2.9e-26)(1500,1.4e-26)(1505,2.2e-26)(1510,1.8e-26)(1515,2.7e-26)(1520,1.5e-26)(1528,2.3e-26)(1535,2e-26)(1545,2.5e-26)(1555,1.7e-26)(1400,5.5e-27)(1440,7e-27)(1470,7.5e-27)(1501,4.5e-27)(1404,2.6e-27)(1471,3.3e-27)(1545,2e-27)(1579,6.2e-27)(1663,1.17e-27)};
\addplot[gtu] coordinates {(1455,4.6e-26)(1462,3.8e-26)(1470,4.5e-26)(1478,4.8e-26)(1486,4.2e-26)(1494,3.6e-26)(1502,4.4e-26)(1510,3.2e-26)(1518,4.1e-26)(1526,2.8e-26)(1534,3.9e-26)(1542,3.4e-26)(1550,4.2e-26)(1558,2.5e-26)(1566,3.7e-26)(1574,3.1e-26)(1582,4e-26)(1590,2.3e-26)(1598,3.5e-26)(1606,2.9e-26)(1614,3.9e-26)(1622,2.1e-26)(1630,3.3e-26)(1638,2.7e-26)(1646,3.7e-26)(1654,2.4e-26)(1662,3.2e-26)(1670,1.8e-26)(1678,3.5e-26)(1686,2.6e-26)(1694,3.3e-26)(1702,2.2e-26)(1710,3.1e-26)(1718,2.8e-26)(1726,3.3e-26)(1734,2.5e-26)(1742,3.2e-26)(1750,2.9e-26)(1758,3.3e-26)(1766,2.7e-26)(1774,3.1e-26)(1782,2.8e-26)(1790,3.2e-26)(1798,2.6e-26)(1806,3.1e-26)(1814,2.9e-26)(1822,3.2e-26)(1830,2.7e-26)(1838,3e-26)(1846,3.1e-26)(1854,2.8e-26)(1862,3e-26)(1870,2.9e-26)(1880,3e-26)(1890,2.8e-26)(1900,2.9e-26)(1600,1.6e-26)(1640,1.5e-26)(1680,1.4e-26)(1720,1.6e-26)(1560,1.8e-26)(1590,1.3e-26)(1625,1.9e-26)(1660,1.7e-26)(1700,1.9e-26)(1740,2.1e-26)(1480,2.8e-26)(1520,2.2e-26)(1660,1.2e-26)
(1063,3.8e-28)(1084,6.5e-28)(1166,1.26e-27)(1211,2.6e-28)(1254,5.7e-28)(1311,7.6e-29)(1336,3.7e-29)(1341,7e-29)(1353,1.9e-28)(1365,3.8e-29)(1367,5.8e-29)(1378,5.5e-28)(1384,6.5e-29)(1385,4.7e-29)(1394,3.2e-28)(1430,6.4e-29)(1453,4.5e-28)(1498,6.2e-29)(1508,5.8e-28)(1512,3.4e-28)(1516,2.9e-29)(1522,2.1e-28)(1537,3.7e-29)(1553,3e-29)(1571,8.9e-29)(1606,4.9e-29)(1505,2.1e-27)(1450,3e-27)(1510,2.3e-27)};
\addplot[ccyan,line width=2pt,forget plot] coordinates {(1011,1.12e-26)(1612,4.7e-27)};
\addplot[cyp] coordinates {(1012,1.15e-26)(1020,1.05e-26)(1300,7.6e-27)(1310,7.3e-27)(1600,4.8e-27)(1612,4.7e-27)};
\addplot[cblue,line width=2pt,forget plot] coordinates {(1463,4.3e-26)(2037,2.15e-26)};
\addplot[blp] coordinates {(1470,4.23e-26)(1500,4.08e-26)(1525,3.96e-26)(1550,3.84e-26)(1575,3.73e-26)(1600,3.63e-26)(1625,3.52e-26)(1650,3.41e-26)(1675,3.31e-26)(1700,3.21e-26)(1725,3.11e-26)(1750,3.02e-26)(1775,2.93e-26)(1800,2.84e-26)(1825,2.76e-26)(1850,2.68e-26)(1875,2.6e-26)(1900,2.52e-26)(1925,2.45e-26)(1950,2.37e-26)(1975,2.3e-26)(2000,2.24e-26)(2020,2.18e-26)(2037,2.13e-26)(1705,7.9e-27)(1620,1.95e-26)(1651,2.4e-26)};
\addplot[cgreen,line width=2.5pt,forget plot] coordinates {(1011,2.8e-29)(1320,1.05e-29)};
\addplot[cgreen,line width=3pt,forget plot] coordinates {(1440,7.2e-30)(1850,2.55e-30)};
\addplot[grp] coordinates {(1015,3.2e-29)(1025,2.6e-29)(1035,3.3e-29)(1045,2.4e-29)(1055,2.7e-29)(1065,2.1e-29)(1075,2.4e-29)(1085,2.5e-29)(1095,1.9e-29)(1105,2.0e-29)(1115,1.8e-29)(1125,1.9e-29)(1135,1.6e-29)(1145,1.7e-29)(1155,1.5e-29)(1165,1.6e-29)(1175,1.4e-29)(1185,1.45e-29)(1195,1.3e-29)(1205,1.35e-29)(1215,1.25e-29)(1225,1.1e-29)(1235,1.2e-29)(1245,1.05e-29)(1255,1.15e-29)(1265,1.0e-29)(1275,1.05e-29)(1285,9.5e-30)(1295,1.0e-29)(1305,9e-30)(1315,9.5e-30)
(1330,1.3e-29)(1340,1.1e-29)(1350,1.2e-29)(1360,9e-30)(1370,1.1e-29)(1380,8.5e-30)(1390,1e-29)(1400,7.5e-30)(1410,9e-30)(1420,8e-30)(1430,7e-30)(1440,8.5e-30)(1450,6.5e-30)(1460,7.8e-30)(1470,6.2e-30)(1480,7.4e-30)(1490,5.8e-30)(1500,6.8e-30)(1510,5.5e-30)(1520,6.3e-30)(1530,5.2e-30)(1540,6e-30)(1550,4.9e-30)(1560,5.6e-30)(1570,4.6e-30)(1580,5.3e-30)(1590,4.3e-30)(1600,5e-30)(1610,4.1e-30)(1620,4.7e-30)(1630,3.9e-30)(1640,4.5e-30)(1650,3.7e-30)(1660,4.3e-30)(1670,3.5e-30)(1680,4.1e-30)(1690,3.4e-30)(1700,3.9e-30)(1710,3.2e-30)(1720,3.7e-30)(1730,3.1e-30)(1740,3.5e-30)(1750,2.9e-30)(1760,3.3e-30)(1770,2.8e-30)(1780,3.2e-30)(1790,2.7e-30)(1800,3e-30)(1810,2.6e-30)(1820,2.8e-30)(1830,2.5e-30)(1840,2.7e-30)(1850,2.4e-30)
(1456,1.5e-28)(1430,1e-28)(1436,1.15e-28)(1428,6.5e-29)(1465,6.3e-29)(1497,6e-29)(1545,5.5e-29)(1505,1.8e-27)(1658,4.3e-28)(1781,4.8e-28)(1797,7.6e-28)(1805,2.1e-29)(1809,1.2e-29)(1811,9e-30)(1617,2.9e-29)(1623,2.1e-29)(1475,2.3e-29)(1478,2e-29)(1381,2.1e-29)(1370,2.1e-29)(1340,1.9e-29)(1280,2.2e-29)(1126,3.9e-29)(1040,3.4e-29)(1020,3.1e-29)(1065,1.3e-29)(1071,9.5e-30)
(1470,1.4e-29)(1490,1.0e-29)(1510,1.3e-29)(1530,8e-30)(1550,1.1e-29)(1570,9e-30)(1590,1.2e-29)(1610,8e-30)(1630,1e-29)(1650,7e-30)(1670,9.5e-30)(1690,6.5e-30)(1710,8e-30)(1730,6e-30)(1750,7e-30)(1770,5.5e-30)(1790,6e-30)(1400,1.6e-29)(1420,1.2e-29)(1440,1.9e-29)(1460,1.1e-29)(1520,1.7e-29)(1560,1.5e-29)(1600,1.8e-29)(1640,1.4e-29)(1680,1.2e-29)(1720,1.1e-29)(1760,1e-29)(1795,1.1e-29)(1665,1.7e-29)(1690,1.6e-29)(1680,2.1e-29)(1705,2e-29)(1640,2.3e-29)
(1385,5.1e-30)(1394,3.5e-30)(1405,2.8e-30)(1446,4.5e-30)(1456,2.7e-30)(1486,3.6e-30)(1537,2.8e-30)(1573,3e-30)(1591,3.8e-30)(1653,2.6e-30)(1700,3e-30)(1707,2.1e-30)(1737,3e-30)};
\addplot[cmag,line width=0.5pt,forget plot] coordinates {(1000,2.5e-25)(2100,5.9e-25)};
\addplot[cred,line width=1pt,forget plot] coordinates {(1000,4.05e-26)(1200,5.75e-26)(1571,4.25e-26)(2095,9.2e-26)};
\node[lbl] at (axis cs:1204.8,5.6e-25) {Fermi-LAT-dSphs(2016)};
\node[lbl] at (axis cs:1417.8,6.4e-26) {AMS-02-antiproton};
\end{axis}
\end{tikzpicture}
\end{document}
